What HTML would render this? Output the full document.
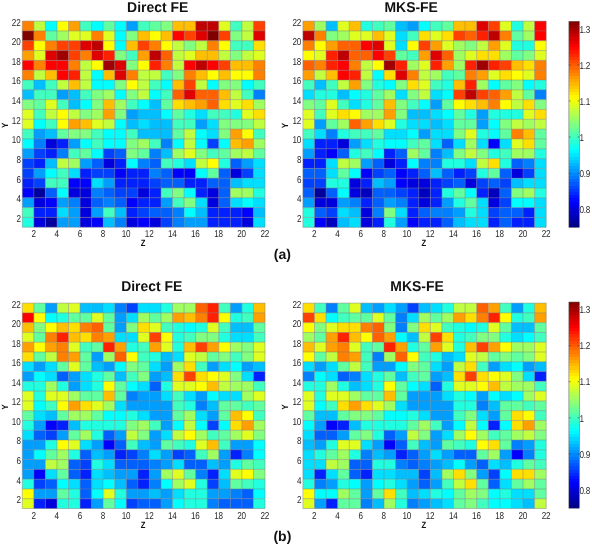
<!DOCTYPE html>
<html><head><meta charset="utf-8"><style>
html,body{margin:0;padding:0;background:#fff;}
svg{display:block;text-rendering:geometricPrecision;filter:blur(0.3px)}
.tk{font-family:"Liberation Sans",sans-serif;font-size:10px;letter-spacing:-0.3px;fill:#262626}
.tt{font-family:"Liberation Sans",sans-serif;font-size:14.3px;font-weight:bold;fill:#111}
.ax{font-family:"Liberation Sans",sans-serif;font-size:9px;font-weight:bold;fill:#111}
.lb{font-family:"Liberation Sans",sans-serif;font-size:14px;font-weight:bold;fill:#111}
</style></head><body>
<svg width="592" height="546" viewBox="0 0 592 546">
<rect x="22.30" y="21.10" width="11.61" height="9.86" fill="#ff8000"/><rect x="33.86" y="21.10" width="11.61" height="9.86" fill="#bfff40"/><rect x="45.41" y="21.10" width="11.61" height="9.86" fill="#00ffff"/><rect x="56.97" y="21.10" width="11.61" height="9.86" fill="#ffff00"/><rect x="68.53" y="21.10" width="11.61" height="9.86" fill="#ff9f00"/><rect x="80.09" y="21.10" width="11.61" height="9.86" fill="#40ffbf"/><rect x="91.64" y="21.10" width="11.61" height="9.86" fill="#00ffff"/><rect x="103.20" y="21.10" width="11.61" height="9.86" fill="#60ff9f"/><rect x="114.76" y="21.10" width="11.61" height="9.86" fill="#00ffff"/><rect x="126.31" y="21.10" width="11.61" height="9.86" fill="#009fff"/><rect x="137.87" y="21.10" width="11.61" height="9.86" fill="#40ffbf"/><rect x="149.43" y="21.10" width="11.61" height="9.86" fill="#60ff9f"/><rect x="160.99" y="21.10" width="11.61" height="9.86" fill="#80ff80"/><rect x="172.54" y="21.10" width="11.61" height="9.86" fill="#ffbf00"/><rect x="184.10" y="21.10" width="11.61" height="9.86" fill="#ffbf00"/><rect x="195.66" y="21.10" width="11.61" height="9.86" fill="#bf0000"/><rect x="207.21" y="21.10" width="11.61" height="9.86" fill="#bf0000"/><rect x="218.77" y="21.10" width="11.61" height="9.86" fill="#dfff20"/><rect x="230.33" y="21.10" width="11.61" height="9.86" fill="#40ffbf"/><rect x="241.89" y="21.10" width="11.61" height="9.86" fill="#bfff40"/><rect x="253.44" y="21.10" width="11.61" height="9.86" fill="#ff4000"/><rect x="22.30" y="30.91" width="11.61" height="9.86" fill="#800000"/><rect x="33.86" y="30.91" width="11.61" height="9.86" fill="#ff8000"/><rect x="45.41" y="30.91" width="11.61" height="9.86" fill="#60ff9f"/><rect x="56.97" y="30.91" width="11.61" height="9.86" fill="#9fff60"/><rect x="68.53" y="30.91" width="11.61" height="9.86" fill="#dfff20"/><rect x="80.09" y="30.91" width="11.61" height="9.86" fill="#dfff20"/><rect x="91.64" y="30.91" width="11.61" height="9.86" fill="#ff8000"/><rect x="103.20" y="30.91" width="11.61" height="9.86" fill="#dfff20"/><rect x="114.76" y="30.91" width="11.61" height="9.86" fill="#00ffff"/><rect x="126.31" y="30.91" width="11.61" height="9.86" fill="#80ff80"/><rect x="137.87" y="30.91" width="11.61" height="9.86" fill="#ffbf00"/><rect x="149.43" y="30.91" width="11.61" height="9.86" fill="#ffff00"/><rect x="160.99" y="30.91" width="11.61" height="9.86" fill="#ffbf00"/><rect x="172.54" y="30.91" width="11.61" height="9.86" fill="#ff0000"/><rect x="184.10" y="30.91" width="11.61" height="9.86" fill="#ff4000"/><rect x="195.66" y="30.91" width="11.61" height="9.86" fill="#df0000"/><rect x="207.21" y="30.91" width="11.61" height="9.86" fill="#800000"/><rect x="218.77" y="30.91" width="11.61" height="9.86" fill="#ff4000"/><rect x="230.33" y="30.91" width="11.61" height="9.86" fill="#80ff80"/><rect x="241.89" y="30.91" width="11.61" height="9.86" fill="#bfff40"/><rect x="253.44" y="30.91" width="11.61" height="9.86" fill="#df0000"/><rect x="22.30" y="40.73" width="11.61" height="9.86" fill="#ff4000"/><rect x="33.86" y="40.73" width="11.61" height="9.86" fill="#ffff00"/><rect x="45.41" y="40.73" width="11.61" height="9.86" fill="#ff8000"/><rect x="56.97" y="40.73" width="11.61" height="9.86" fill="#ff4000"/><rect x="68.53" y="40.73" width="11.61" height="9.86" fill="#ff4000"/><rect x="80.09" y="40.73" width="11.61" height="9.86" fill="#df0000"/><rect x="91.64" y="40.73" width="11.61" height="9.86" fill="#bf0000"/><rect x="103.20" y="40.73" width="11.61" height="9.86" fill="#ffff00"/><rect x="114.76" y="40.73" width="11.61" height="9.86" fill="#00ffff"/><rect x="126.31" y="40.73" width="11.61" height="9.86" fill="#ffbf00"/><rect x="137.87" y="40.73" width="11.61" height="9.86" fill="#ff4000"/><rect x="149.43" y="40.73" width="11.61" height="9.86" fill="#ff8000"/><rect x="160.99" y="40.73" width="11.61" height="9.86" fill="#ffff00"/><rect x="172.54" y="40.73" width="11.61" height="9.86" fill="#bfff40"/><rect x="184.10" y="40.73" width="11.61" height="9.86" fill="#80ff80"/><rect x="195.66" y="40.73" width="11.61" height="9.86" fill="#bfff40"/><rect x="207.21" y="40.73" width="11.61" height="9.86" fill="#ff8000"/><rect x="218.77" y="40.73" width="11.61" height="9.86" fill="#ffff00"/><rect x="230.33" y="40.73" width="11.61" height="9.86" fill="#40ffbf"/><rect x="241.89" y="40.73" width="11.61" height="9.86" fill="#40ffbf"/><rect x="253.44" y="40.73" width="11.61" height="9.86" fill="#ffdf00"/><rect x="22.30" y="50.54" width="11.61" height="9.86" fill="#ff9f00"/><rect x="33.86" y="50.54" width="11.61" height="9.86" fill="#dfff20"/><rect x="45.41" y="50.54" width="11.61" height="9.86" fill="#df0000"/><rect x="56.97" y="50.54" width="11.61" height="9.86" fill="#9f0000"/><rect x="68.53" y="50.54" width="11.61" height="9.86" fill="#ff4000"/><rect x="80.09" y="50.54" width="11.61" height="9.86" fill="#ff8000"/><rect x="91.64" y="50.54" width="11.61" height="9.86" fill="#df0000"/><rect x="103.20" y="50.54" width="11.61" height="9.86" fill="#ff2000"/><rect x="114.76" y="50.54" width="11.61" height="9.86" fill="#80ff80"/><rect x="126.31" y="50.54" width="11.61" height="9.86" fill="#40ffbf"/><rect x="137.87" y="50.54" width="11.61" height="9.86" fill="#ff9f00"/><rect x="149.43" y="50.54" width="11.61" height="9.86" fill="#bf0000"/><rect x="160.99" y="50.54" width="11.61" height="9.86" fill="#ff6000"/><rect x="172.54" y="50.54" width="11.61" height="9.86" fill="#bfff40"/><rect x="184.10" y="50.54" width="11.61" height="9.86" fill="#dfff20"/><rect x="195.66" y="50.54" width="11.61" height="9.86" fill="#ffbf00"/><rect x="207.21" y="50.54" width="11.61" height="9.86" fill="#ffbf00"/><rect x="218.77" y="50.54" width="11.61" height="9.86" fill="#bfff40"/><rect x="230.33" y="50.54" width="11.61" height="9.86" fill="#80ff80"/><rect x="241.89" y="50.54" width="11.61" height="9.86" fill="#bfff40"/><rect x="253.44" y="50.54" width="11.61" height="9.86" fill="#dfff20"/><rect x="22.30" y="60.36" width="11.61" height="9.86" fill="#ff0000"/><rect x="33.86" y="60.36" width="11.61" height="9.86" fill="#ff8000"/><rect x="45.41" y="60.36" width="11.61" height="9.86" fill="#ff0000"/><rect x="56.97" y="60.36" width="11.61" height="9.86" fill="#ff0000"/><rect x="68.53" y="60.36" width="11.61" height="9.86" fill="#ff8000"/><rect x="80.09" y="60.36" width="11.61" height="9.86" fill="#bfff40"/><rect x="91.64" y="60.36" width="11.61" height="9.86" fill="#ffff00"/><rect x="103.20" y="60.36" width="11.61" height="9.86" fill="#9f0000"/><rect x="114.76" y="60.36" width="11.61" height="9.86" fill="#df0000"/><rect x="126.31" y="60.36" width="11.61" height="9.86" fill="#80ff80"/><rect x="137.87" y="60.36" width="11.61" height="9.86" fill="#ffff00"/><rect x="149.43" y="60.36" width="11.61" height="9.86" fill="#ff2000"/><rect x="160.99" y="60.36" width="11.61" height="9.86" fill="#ff8000"/><rect x="172.54" y="60.36" width="11.61" height="9.86" fill="#bfff40"/><rect x="184.10" y="60.36" width="11.61" height="9.86" fill="#ff0000"/><rect x="195.66" y="60.36" width="11.61" height="9.86" fill="#bf0000"/><rect x="207.21" y="60.36" width="11.61" height="9.86" fill="#ff0000"/><rect x="218.77" y="60.36" width="11.61" height="9.86" fill="#ff4000"/><rect x="230.33" y="60.36" width="11.61" height="9.86" fill="#ffbf00"/><rect x="241.89" y="60.36" width="11.61" height="9.86" fill="#ffbf00"/><rect x="253.44" y="60.36" width="11.61" height="9.86" fill="#ff8000"/><rect x="22.30" y="70.17" width="11.61" height="9.86" fill="#ff8000"/><rect x="33.86" y="70.17" width="11.61" height="9.86" fill="#bfff40"/><rect x="45.41" y="70.17" width="11.61" height="9.86" fill="#ffbf00"/><rect x="56.97" y="70.17" width="11.61" height="9.86" fill="#ff0000"/><rect x="68.53" y="70.17" width="11.61" height="9.86" fill="#ff2000"/><rect x="80.09" y="70.17" width="11.61" height="9.86" fill="#bfff40"/><rect x="91.64" y="70.17" width="11.61" height="9.86" fill="#00ffff"/><rect x="103.20" y="70.17" width="11.61" height="9.86" fill="#ffbf00"/><rect x="114.76" y="70.17" width="11.61" height="9.86" fill="#df0000"/><rect x="126.31" y="70.17" width="11.61" height="9.86" fill="#ff8000"/><rect x="137.87" y="70.17" width="11.61" height="9.86" fill="#bfff40"/><rect x="149.43" y="70.17" width="11.61" height="9.86" fill="#bfff40"/><rect x="160.99" y="70.17" width="11.61" height="9.86" fill="#40ffbf"/><rect x="172.54" y="70.17" width="11.61" height="9.86" fill="#80ff80"/><rect x="184.10" y="70.17" width="11.61" height="9.86" fill="#ff8000"/><rect x="195.66" y="70.17" width="11.61" height="9.86" fill="#ffbf00"/><rect x="207.21" y="70.17" width="11.61" height="9.86" fill="#ffff00"/><rect x="218.77" y="70.17" width="11.61" height="9.86" fill="#ffbf00"/><rect x="230.33" y="70.17" width="11.61" height="9.86" fill="#ffff00"/><rect x="241.89" y="70.17" width="11.61" height="9.86" fill="#ffff00"/><rect x="253.44" y="70.17" width="11.61" height="9.86" fill="#ff8000"/><rect x="22.30" y="79.99" width="11.61" height="9.86" fill="#40ffbf"/><rect x="33.86" y="79.99" width="11.61" height="9.86" fill="#00bfff"/><rect x="45.41" y="79.99" width="11.61" height="9.86" fill="#40ffbf"/><rect x="56.97" y="79.99" width="11.61" height="9.86" fill="#bfff40"/><rect x="68.53" y="79.99" width="11.61" height="9.86" fill="#ffbf00"/><rect x="80.09" y="79.99" width="11.61" height="9.86" fill="#bfff40"/><rect x="91.64" y="79.99" width="11.61" height="9.86" fill="#00ffff"/><rect x="103.20" y="79.99" width="11.61" height="9.86" fill="#00ffff"/><rect x="114.76" y="79.99" width="11.61" height="9.86" fill="#80ff80"/><rect x="126.31" y="79.99" width="11.61" height="9.86" fill="#ffff00"/><rect x="137.87" y="79.99" width="11.61" height="9.86" fill="#bfff40"/><rect x="149.43" y="79.99" width="11.61" height="9.86" fill="#40ffbf"/><rect x="160.99" y="79.99" width="11.61" height="9.86" fill="#00ffff"/><rect x="172.54" y="79.99" width="11.61" height="9.86" fill="#ffbf00"/><rect x="184.10" y="79.99" width="11.61" height="9.86" fill="#ff4000"/><rect x="195.66" y="79.99" width="11.61" height="9.86" fill="#bfff40"/><rect x="207.21" y="79.99" width="11.61" height="9.86" fill="#00ffff"/><rect x="218.77" y="79.99" width="11.61" height="9.86" fill="#80ff80"/><rect x="230.33" y="79.99" width="11.61" height="9.86" fill="#80ff80"/><rect x="241.89" y="79.99" width="11.61" height="9.86" fill="#00ffff"/><rect x="253.44" y="79.99" width="11.61" height="9.86" fill="#40ffbf"/><rect x="22.30" y="89.80" width="11.61" height="9.86" fill="#00bfff"/><rect x="33.86" y="89.80" width="11.61" height="9.86" fill="#40ffbf"/><rect x="45.41" y="89.80" width="11.61" height="9.86" fill="#40ffbf"/><rect x="56.97" y="89.80" width="11.61" height="9.86" fill="#009fff"/><rect x="68.53" y="89.80" width="11.61" height="9.86" fill="#00bfff"/><rect x="80.09" y="89.80" width="11.61" height="9.86" fill="#40ffbf"/><rect x="91.64" y="89.80" width="11.61" height="9.86" fill="#80ff80"/><rect x="103.20" y="89.80" width="11.61" height="9.86" fill="#9fff60"/><rect x="114.76" y="89.80" width="11.61" height="9.86" fill="#00ffff"/><rect x="126.31" y="89.80" width="11.61" height="9.86" fill="#80ff80"/><rect x="137.87" y="89.80" width="11.61" height="9.86" fill="#bfff40"/><rect x="149.43" y="89.80" width="11.61" height="9.86" fill="#00ffff"/><rect x="160.99" y="89.80" width="11.61" height="9.86" fill="#40ffbf"/><rect x="172.54" y="89.80" width="11.61" height="9.86" fill="#ff6000"/><rect x="184.10" y="89.80" width="11.61" height="9.86" fill="#df0000"/><rect x="195.66" y="89.80" width="11.61" height="9.86" fill="#ff6000"/><rect x="207.21" y="89.80" width="11.61" height="9.86" fill="#ff6000"/><rect x="218.77" y="89.80" width="11.61" height="9.86" fill="#ffbf00"/><rect x="230.33" y="89.80" width="11.61" height="9.86" fill="#bfff40"/><rect x="241.89" y="89.80" width="11.61" height="9.86" fill="#40ffbf"/><rect x="253.44" y="89.80" width="11.61" height="9.86" fill="#0080ff"/><rect x="22.30" y="99.61" width="11.61" height="9.86" fill="#80ff80"/><rect x="33.86" y="99.61" width="11.61" height="9.86" fill="#60ff9f"/><rect x="45.41" y="99.61" width="11.61" height="9.86" fill="#dfff20"/><rect x="56.97" y="99.61" width="11.61" height="9.86" fill="#40ffbf"/><rect x="68.53" y="99.61" width="11.61" height="9.86" fill="#00bfff"/><rect x="80.09" y="99.61" width="11.61" height="9.86" fill="#00ffff"/><rect x="91.64" y="99.61" width="11.61" height="9.86" fill="#80ff80"/><rect x="103.20" y="99.61" width="11.61" height="9.86" fill="#ffbf00"/><rect x="114.76" y="99.61" width="11.61" height="9.86" fill="#9fff60"/><rect x="126.31" y="99.61" width="11.61" height="9.86" fill="#40ffbf"/><rect x="137.87" y="99.61" width="11.61" height="9.86" fill="#00ffff"/><rect x="149.43" y="99.61" width="11.61" height="9.86" fill="#00bfff"/><rect x="160.99" y="99.61" width="11.61" height="9.86" fill="#60ff9f"/><rect x="172.54" y="99.61" width="11.61" height="9.86" fill="#ffdf00"/><rect x="184.10" y="99.61" width="11.61" height="9.86" fill="#ffbf00"/><rect x="195.66" y="99.61" width="11.61" height="9.86" fill="#ff9f00"/><rect x="207.21" y="99.61" width="11.61" height="9.86" fill="#ff6000"/><rect x="218.77" y="99.61" width="11.61" height="9.86" fill="#ffdf00"/><rect x="230.33" y="99.61" width="11.61" height="9.86" fill="#dfff20"/><rect x="241.89" y="99.61" width="11.61" height="9.86" fill="#ffdf00"/><rect x="253.44" y="99.61" width="11.61" height="9.86" fill="#9fff60"/><rect x="22.30" y="109.43" width="11.61" height="9.86" fill="#dfff20"/><rect x="33.86" y="109.43" width="11.61" height="9.86" fill="#40ffbf"/><rect x="45.41" y="109.43" width="11.61" height="9.86" fill="#bfff40"/><rect x="56.97" y="109.43" width="11.61" height="9.86" fill="#ffff00"/><rect x="68.53" y="109.43" width="11.61" height="9.86" fill="#bfff40"/><rect x="80.09" y="109.43" width="11.61" height="9.86" fill="#80ff80"/><rect x="91.64" y="109.43" width="11.61" height="9.86" fill="#9fff60"/><rect x="103.20" y="109.43" width="11.61" height="9.86" fill="#ff9f00"/><rect x="114.76" y="109.43" width="11.61" height="9.86" fill="#80ff80"/><rect x="126.31" y="109.43" width="11.61" height="9.86" fill="#009fff"/><rect x="137.87" y="109.43" width="11.61" height="9.86" fill="#00bfff"/><rect x="149.43" y="109.43" width="11.61" height="9.86" fill="#00bfff"/><rect x="160.99" y="109.43" width="11.61" height="9.86" fill="#00ffff"/><rect x="172.54" y="109.43" width="11.61" height="9.86" fill="#60ff9f"/><rect x="184.10" y="109.43" width="11.61" height="9.86" fill="#20ffdf"/><rect x="195.66" y="109.43" width="11.61" height="9.86" fill="#00dfff"/><rect x="207.21" y="109.43" width="11.61" height="9.86" fill="#40ffbf"/><rect x="218.77" y="109.43" width="11.61" height="9.86" fill="#40ffbf"/><rect x="230.33" y="109.43" width="11.61" height="9.86" fill="#20ffdf"/><rect x="241.89" y="109.43" width="11.61" height="9.86" fill="#dfff20"/><rect x="253.44" y="109.43" width="11.61" height="9.86" fill="#ffdf00"/><rect x="22.30" y="119.24" width="11.61" height="9.86" fill="#dfff20"/><rect x="33.86" y="119.24" width="11.61" height="9.86" fill="#00ffff"/><rect x="45.41" y="119.24" width="11.61" height="9.86" fill="#40ffbf"/><rect x="56.97" y="119.24" width="11.61" height="9.86" fill="#ffff00"/><rect x="68.53" y="119.24" width="11.61" height="9.86" fill="#ff9f00"/><rect x="80.09" y="119.24" width="11.61" height="9.86" fill="#ffbf00"/><rect x="91.64" y="119.24" width="11.61" height="9.86" fill="#dfff20"/><rect x="103.20" y="119.24" width="11.61" height="9.86" fill="#bfff40"/><rect x="114.76" y="119.24" width="11.61" height="9.86" fill="#00ffff"/><rect x="126.31" y="119.24" width="11.61" height="9.86" fill="#00bfff"/><rect x="137.87" y="119.24" width="11.61" height="9.86" fill="#00dfff"/><rect x="149.43" y="119.24" width="11.61" height="9.86" fill="#00bfff"/><rect x="160.99" y="119.24" width="11.61" height="9.86" fill="#00bfff"/><rect x="172.54" y="119.24" width="11.61" height="9.86" fill="#40ffbf"/><rect x="184.10" y="119.24" width="11.61" height="9.86" fill="#40ffbf"/><rect x="195.66" y="119.24" width="11.61" height="9.86" fill="#009fff"/><rect x="207.21" y="119.24" width="11.61" height="9.86" fill="#00dfff"/><rect x="218.77" y="119.24" width="11.61" height="9.86" fill="#80ff80"/><rect x="230.33" y="119.24" width="11.61" height="9.86" fill="#80ff80"/><rect x="241.89" y="119.24" width="11.61" height="9.86" fill="#80ff80"/><rect x="253.44" y="119.24" width="11.61" height="9.86" fill="#bfff40"/><rect x="22.30" y="129.06" width="11.61" height="9.86" fill="#40ffbf"/><rect x="33.86" y="129.06" width="11.61" height="9.86" fill="#009fff"/><rect x="45.41" y="129.06" width="11.61" height="9.86" fill="#00bfff"/><rect x="56.97" y="129.06" width="11.61" height="9.86" fill="#60ff9f"/><rect x="68.53" y="129.06" width="11.61" height="9.86" fill="#80ff80"/><rect x="80.09" y="129.06" width="11.61" height="9.86" fill="#80ff80"/><rect x="91.64" y="129.06" width="11.61" height="9.86" fill="#40ffbf"/><rect x="103.20" y="129.06" width="11.61" height="9.86" fill="#00ffff"/><rect x="114.76" y="129.06" width="11.61" height="9.86" fill="#00ffff"/><rect x="126.31" y="129.06" width="11.61" height="9.86" fill="#40ffbf"/><rect x="137.87" y="129.06" width="11.61" height="9.86" fill="#00bfff"/><rect x="149.43" y="129.06" width="11.61" height="9.86" fill="#00bfff"/><rect x="160.99" y="129.06" width="11.61" height="9.86" fill="#00bfff"/><rect x="172.54" y="129.06" width="11.61" height="9.86" fill="#60ff9f"/><rect x="184.10" y="129.06" width="11.61" height="9.86" fill="#bfff40"/><rect x="195.66" y="129.06" width="11.61" height="9.86" fill="#00ffff"/><rect x="207.21" y="129.06" width="11.61" height="9.86" fill="#00dfff"/><rect x="218.77" y="129.06" width="11.61" height="9.86" fill="#80ff80"/><rect x="230.33" y="129.06" width="11.61" height="9.86" fill="#ff9f00"/><rect x="241.89" y="129.06" width="11.61" height="9.86" fill="#ffff00"/><rect x="253.44" y="129.06" width="11.61" height="9.86" fill="#40ffbf"/><rect x="22.30" y="138.87" width="11.61" height="9.86" fill="#00ffff"/><rect x="33.86" y="138.87" width="11.61" height="9.86" fill="#0080ff"/><rect x="45.41" y="138.87" width="11.61" height="9.86" fill="#0000df"/><rect x="56.97" y="138.87" width="11.61" height="9.86" fill="#0020ff"/><rect x="68.53" y="138.87" width="11.61" height="9.86" fill="#009fff"/><rect x="80.09" y="138.87" width="11.61" height="9.86" fill="#00ffff"/><rect x="91.64" y="138.87" width="11.61" height="9.86" fill="#40ffbf"/><rect x="103.20" y="138.87" width="11.61" height="9.86" fill="#00ffff"/><rect x="114.76" y="138.87" width="11.61" height="9.86" fill="#00ffff"/><rect x="126.31" y="138.87" width="11.61" height="9.86" fill="#80ff80"/><rect x="137.87" y="138.87" width="11.61" height="9.86" fill="#9fff60"/><rect x="149.43" y="138.87" width="11.61" height="9.86" fill="#40ffbf"/><rect x="160.99" y="138.87" width="11.61" height="9.86" fill="#0080ff"/><rect x="172.54" y="138.87" width="11.61" height="9.86" fill="#00ffff"/><rect x="184.10" y="138.87" width="11.61" height="9.86" fill="#bfff40"/><rect x="195.66" y="138.87" width="11.61" height="9.86" fill="#00ffff"/><rect x="207.21" y="138.87" width="11.61" height="9.86" fill="#0040ff"/><rect x="218.77" y="138.87" width="11.61" height="9.86" fill="#00ffff"/><rect x="230.33" y="138.87" width="11.61" height="9.86" fill="#ffbf00"/><rect x="241.89" y="138.87" width="11.61" height="9.86" fill="#ff9f00"/><rect x="253.44" y="138.87" width="11.61" height="9.86" fill="#9fff60"/><rect x="22.30" y="148.69" width="11.61" height="9.86" fill="#009fff"/><rect x="33.86" y="148.69" width="11.61" height="9.86" fill="#0040ff"/><rect x="45.41" y="148.69" width="11.61" height="9.86" fill="#0020ff"/><rect x="56.97" y="148.69" width="11.61" height="9.86" fill="#0080ff"/><rect x="68.53" y="148.69" width="11.61" height="9.86" fill="#40ffbf"/><rect x="80.09" y="148.69" width="11.61" height="9.86" fill="#60ff9f"/><rect x="91.64" y="148.69" width="11.61" height="9.86" fill="#00ffff"/><rect x="103.20" y="148.69" width="11.61" height="9.86" fill="#0040ff"/><rect x="114.76" y="148.69" width="11.61" height="9.86" fill="#0060ff"/><rect x="126.31" y="148.69" width="11.61" height="9.86" fill="#80ff80"/><rect x="137.87" y="148.69" width="11.61" height="9.86" fill="#60ff9f"/><rect x="149.43" y="148.69" width="11.61" height="9.86" fill="#0080ff"/><rect x="160.99" y="148.69" width="11.61" height="9.86" fill="#00bfff"/><rect x="172.54" y="148.69" width="11.61" height="9.86" fill="#9fff60"/><rect x="184.10" y="148.69" width="11.61" height="9.86" fill="#dfff20"/><rect x="195.66" y="148.69" width="11.61" height="9.86" fill="#80ff80"/><rect x="207.21" y="148.69" width="11.61" height="9.86" fill="#40ffbf"/><rect x="218.77" y="148.69" width="11.61" height="9.86" fill="#60ff9f"/><rect x="230.33" y="148.69" width="11.61" height="9.86" fill="#9fff60"/><rect x="241.89" y="148.69" width="11.61" height="9.86" fill="#bfff40"/><rect x="253.44" y="148.69" width="11.61" height="9.86" fill="#60ff9f"/><rect x="22.30" y="158.50" width="11.61" height="9.86" fill="#0040ff"/><rect x="33.86" y="158.50" width="11.61" height="9.86" fill="#0020ff"/><rect x="45.41" y="158.50" width="11.61" height="9.86" fill="#00bfff"/><rect x="56.97" y="158.50" width="11.61" height="9.86" fill="#bfff40"/><rect x="68.53" y="158.50" width="11.61" height="9.86" fill="#9fff60"/><rect x="80.09" y="158.50" width="11.61" height="9.86" fill="#009fff"/><rect x="91.64" y="158.50" width="11.61" height="9.86" fill="#0060ff"/><rect x="103.20" y="158.50" width="11.61" height="9.86" fill="#0000df"/><rect x="114.76" y="158.50" width="11.61" height="9.86" fill="#0020ff"/><rect x="126.31" y="158.50" width="11.61" height="9.86" fill="#00ffff"/><rect x="137.87" y="158.50" width="11.61" height="9.86" fill="#0080ff"/><rect x="149.43" y="158.50" width="11.61" height="9.86" fill="#0060ff"/><rect x="160.99" y="158.50" width="11.61" height="9.86" fill="#40ffbf"/><rect x="172.54" y="158.50" width="11.61" height="9.86" fill="#20ffdf"/><rect x="184.10" y="158.50" width="11.61" height="9.86" fill="#00dfff"/><rect x="195.66" y="158.50" width="11.61" height="9.86" fill="#bfff40"/><rect x="207.21" y="158.50" width="11.61" height="9.86" fill="#ffff00"/><rect x="218.77" y="158.50" width="11.61" height="9.86" fill="#20ffdf"/><rect x="230.33" y="158.50" width="11.61" height="9.86" fill="#0060ff"/><rect x="241.89" y="158.50" width="11.61" height="9.86" fill="#009fff"/><rect x="253.44" y="158.50" width="11.61" height="9.86" fill="#00dfff"/><rect x="22.30" y="168.31" width="11.61" height="9.86" fill="#0040ff"/><rect x="33.86" y="168.31" width="11.61" height="9.86" fill="#009fff"/><rect x="45.41" y="168.31" width="11.61" height="9.86" fill="#00ffff"/><rect x="56.97" y="168.31" width="11.61" height="9.86" fill="#40ffbf"/><rect x="68.53" y="168.31" width="11.61" height="9.86" fill="#00dfff"/><rect x="80.09" y="168.31" width="11.61" height="9.86" fill="#0020ff"/><rect x="91.64" y="168.31" width="11.61" height="9.86" fill="#0040ff"/><rect x="103.20" y="168.31" width="11.61" height="9.86" fill="#0040ff"/><rect x="114.76" y="168.31" width="11.61" height="9.86" fill="#0000ff"/><rect x="126.31" y="168.31" width="11.61" height="9.86" fill="#0020ff"/><rect x="137.87" y="168.31" width="11.61" height="9.86" fill="#0020ff"/><rect x="149.43" y="168.31" width="11.61" height="9.86" fill="#0080ff"/><rect x="160.99" y="168.31" width="11.61" height="9.86" fill="#0060ff"/><rect x="172.54" y="168.31" width="11.61" height="9.86" fill="#0000ff"/><rect x="184.10" y="168.31" width="11.61" height="9.86" fill="#0000ff"/><rect x="195.66" y="168.31" width="11.61" height="9.86" fill="#00ffff"/><rect x="207.21" y="168.31" width="11.61" height="9.86" fill="#60ff9f"/><rect x="218.77" y="168.31" width="11.61" height="9.86" fill="#0060ff"/><rect x="230.33" y="168.31" width="11.61" height="9.86" fill="#0000df"/><rect x="241.89" y="168.31" width="11.61" height="9.86" fill="#0040ff"/><rect x="253.44" y="168.31" width="11.61" height="9.86" fill="#00dfff"/><rect x="22.30" y="178.13" width="11.61" height="9.86" fill="#0020ff"/><rect x="33.86" y="178.13" width="11.61" height="9.86" fill="#0040ff"/><rect x="45.41" y="178.13" width="11.61" height="9.86" fill="#40ffbf"/><rect x="56.97" y="178.13" width="11.61" height="9.86" fill="#40ffbf"/><rect x="68.53" y="178.13" width="11.61" height="9.86" fill="#0000ff"/><rect x="80.09" y="178.13" width="11.61" height="9.86" fill="#0000ff"/><rect x="91.64" y="178.13" width="11.61" height="9.86" fill="#00dfff"/><rect x="103.20" y="178.13" width="11.61" height="9.86" fill="#009fff"/><rect x="114.76" y="178.13" width="11.61" height="9.86" fill="#0020ff"/><rect x="126.31" y="178.13" width="11.61" height="9.86" fill="#0020ff"/><rect x="137.87" y="178.13" width="11.61" height="9.86" fill="#0020ff"/><rect x="149.43" y="178.13" width="11.61" height="9.86" fill="#0040ff"/><rect x="160.99" y="178.13" width="11.61" height="9.86" fill="#0060ff"/><rect x="172.54" y="178.13" width="11.61" height="9.86" fill="#0060ff"/><rect x="184.10" y="178.13" width="11.61" height="9.86" fill="#0020ff"/><rect x="195.66" y="178.13" width="11.61" height="9.86" fill="#0020ff"/><rect x="207.21" y="178.13" width="11.61" height="9.86" fill="#0060ff"/><rect x="218.77" y="178.13" width="11.61" height="9.86" fill="#0060ff"/><rect x="230.33" y="178.13" width="11.61" height="9.86" fill="#00bfff"/><rect x="241.89" y="178.13" width="11.61" height="9.86" fill="#00dfff"/><rect x="253.44" y="178.13" width="11.61" height="9.86" fill="#00dfff"/><rect x="22.30" y="187.94" width="11.61" height="9.86" fill="#0000ff"/><rect x="33.86" y="187.94" width="11.61" height="9.86" fill="#00009f"/><rect x="45.41" y="187.94" width="11.61" height="9.86" fill="#0060ff"/><rect x="56.97" y="187.94" width="11.61" height="9.86" fill="#00ffff"/><rect x="68.53" y="187.94" width="11.61" height="9.86" fill="#0000df"/><rect x="80.09" y="187.94" width="11.61" height="9.86" fill="#0000df"/><rect x="91.64" y="187.94" width="11.61" height="9.86" fill="#0080ff"/><rect x="103.20" y="187.94" width="11.61" height="9.86" fill="#0060ff"/><rect x="114.76" y="187.94" width="11.61" height="9.86" fill="#0040ff"/><rect x="126.31" y="187.94" width="11.61" height="9.86" fill="#0040ff"/><rect x="137.87" y="187.94" width="11.61" height="9.86" fill="#0000df"/><rect x="149.43" y="187.94" width="11.61" height="9.86" fill="#0020ff"/><rect x="160.99" y="187.94" width="11.61" height="9.86" fill="#40ffbf"/><rect x="172.54" y="187.94" width="11.61" height="9.86" fill="#80ff80"/><rect x="184.10" y="187.94" width="11.61" height="9.86" fill="#00ffff"/><rect x="195.66" y="187.94" width="11.61" height="9.86" fill="#0020ff"/><rect x="207.21" y="187.94" width="11.61" height="9.86" fill="#0000df"/><rect x="218.77" y="187.94" width="11.61" height="9.86" fill="#0060ff"/><rect x="230.33" y="187.94" width="11.61" height="9.86" fill="#9fff60"/><rect x="241.89" y="187.94" width="11.61" height="9.86" fill="#9fff60"/><rect x="253.44" y="187.94" width="11.61" height="9.86" fill="#20ffdf"/><rect x="22.30" y="197.76" width="11.61" height="9.86" fill="#009fff"/><rect x="33.86" y="197.76" width="11.61" height="9.86" fill="#0000df"/><rect x="45.41" y="197.76" width="11.61" height="9.86" fill="#0000ff"/><rect x="56.97" y="197.76" width="11.61" height="9.86" fill="#009fff"/><rect x="68.53" y="197.76" width="11.61" height="9.86" fill="#0080ff"/><rect x="80.09" y="197.76" width="11.61" height="9.86" fill="#0000df"/><rect x="91.64" y="197.76" width="11.61" height="9.86" fill="#0060ff"/><rect x="103.20" y="197.76" width="11.61" height="9.86" fill="#0080ff"/><rect x="114.76" y="197.76" width="11.61" height="9.86" fill="#0060ff"/><rect x="126.31" y="197.76" width="11.61" height="9.86" fill="#0000ff"/><rect x="137.87" y="197.76" width="11.61" height="9.86" fill="#0020ff"/><rect x="149.43" y="197.76" width="11.61" height="9.86" fill="#0020ff"/><rect x="160.99" y="197.76" width="11.61" height="9.86" fill="#009fff"/><rect x="172.54" y="197.76" width="11.61" height="9.86" fill="#40ffbf"/><rect x="184.10" y="197.76" width="11.61" height="9.86" fill="#80ff80"/><rect x="195.66" y="197.76" width="11.61" height="9.86" fill="#00dfff"/><rect x="207.21" y="197.76" width="11.61" height="9.86" fill="#0000df"/><rect x="218.77" y="197.76" width="11.61" height="9.86" fill="#0060ff"/><rect x="230.33" y="197.76" width="11.61" height="9.86" fill="#00dfff"/><rect x="241.89" y="197.76" width="11.61" height="9.86" fill="#00ffff"/><rect x="253.44" y="197.76" width="11.61" height="9.86" fill="#00dfff"/><rect x="22.30" y="207.57" width="11.61" height="9.86" fill="#40ffbf"/><rect x="33.86" y="207.57" width="11.61" height="9.86" fill="#0020ff"/><rect x="45.41" y="207.57" width="11.61" height="9.86" fill="#0020ff"/><rect x="56.97" y="207.57" width="11.61" height="9.86" fill="#00dfff"/><rect x="68.53" y="207.57" width="11.61" height="9.86" fill="#009fff"/><rect x="80.09" y="207.57" width="11.61" height="9.86" fill="#0000df"/><rect x="91.64" y="207.57" width="11.61" height="9.86" fill="#009fff"/><rect x="103.20" y="207.57" width="11.61" height="9.86" fill="#40ffbf"/><rect x="114.76" y="207.57" width="11.61" height="9.86" fill="#00bfff"/><rect x="126.31" y="207.57" width="11.61" height="9.86" fill="#0020ff"/><rect x="137.87" y="207.57" width="11.61" height="9.86" fill="#0040ff"/><rect x="149.43" y="207.57" width="11.61" height="9.86" fill="#0060ff"/><rect x="160.99" y="207.57" width="11.61" height="9.86" fill="#0060ff"/><rect x="172.54" y="207.57" width="11.61" height="9.86" fill="#0080ff"/><rect x="184.10" y="207.57" width="11.61" height="9.86" fill="#00ffff"/><rect x="195.66" y="207.57" width="11.61" height="9.86" fill="#00bfff"/><rect x="207.21" y="207.57" width="11.61" height="9.86" fill="#0020ff"/><rect x="218.77" y="207.57" width="11.61" height="9.86" fill="#0020ff"/><rect x="230.33" y="207.57" width="11.61" height="9.86" fill="#0020ff"/><rect x="241.89" y="207.57" width="11.61" height="9.86" fill="#0000ff"/><rect x="253.44" y="207.57" width="11.61" height="9.86" fill="#00bfff"/><rect x="22.30" y="217.39" width="11.61" height="9.86" fill="#20ffdf"/><rect x="33.86" y="217.39" width="11.61" height="9.86" fill="#0000df"/><rect x="45.41" y="217.39" width="11.61" height="9.86" fill="#00009f"/><rect x="56.97" y="217.39" width="11.61" height="9.86" fill="#009fff"/><rect x="68.53" y="217.39" width="11.61" height="9.86" fill="#009fff"/><rect x="80.09" y="217.39" width="11.61" height="9.86" fill="#0000df"/><rect x="91.64" y="217.39" width="11.61" height="9.86" fill="#0000ff"/><rect x="103.20" y="217.39" width="11.61" height="9.86" fill="#00bfff"/><rect x="114.76" y="217.39" width="11.61" height="9.86" fill="#0080ff"/><rect x="126.31" y="217.39" width="11.61" height="9.86" fill="#0000df"/><rect x="137.87" y="217.39" width="11.61" height="9.86" fill="#0000ff"/><rect x="149.43" y="217.39" width="11.61" height="9.86" fill="#0000df"/><rect x="160.99" y="217.39" width="11.61" height="9.86" fill="#0040ff"/><rect x="172.54" y="217.39" width="11.61" height="9.86" fill="#0080ff"/><rect x="184.10" y="217.39" width="11.61" height="9.86" fill="#009fff"/><rect x="195.66" y="217.39" width="11.61" height="9.86" fill="#009fff"/><rect x="207.21" y="217.39" width="11.61" height="9.86" fill="#0020ff"/><rect x="218.77" y="217.39" width="11.61" height="9.86" fill="#0020ff"/><rect x="230.33" y="217.39" width="11.61" height="9.86" fill="#0020ff"/><rect x="241.89" y="217.39" width="11.61" height="9.86" fill="#0000df"/><rect x="253.44" y="217.39" width="11.61" height="9.86" fill="#00dfff"/><path d="M22.30 21.10V227.20M33.86 21.10V227.20M45.41 21.10V227.20M56.97 21.10V227.20M68.53 21.10V227.20M80.09 21.10V227.20M91.64 21.10V227.20M103.20 21.10V227.20M114.76 21.10V227.20M126.31 21.10V227.20M137.87 21.10V227.20M149.43 21.10V227.20M160.99 21.10V227.20M172.54 21.10V227.20M184.10 21.10V227.20M195.66 21.10V227.20M207.21 21.10V227.20M218.77 21.10V227.20M230.33 21.10V227.20M241.89 21.10V227.20M253.44 21.10V227.20M265.00 21.10V227.20M22.30 21.10H265.00M22.30 30.91H265.00M22.30 40.73H265.00M22.30 50.54H265.00M22.30 60.36H265.00M22.30 70.17H265.00M22.30 79.99H265.00M22.30 89.80H265.00M22.30 99.61H265.00M22.30 109.43H265.00M22.30 119.24H265.00M22.30 129.06H265.00M22.30 138.87H265.00M22.30 148.69H265.00M22.30 158.50H265.00M22.30 168.31H265.00M22.30 178.13H265.00M22.30 187.94H265.00M22.30 197.76H265.00M22.30 207.57H265.00M22.30 217.39H265.00M22.30 227.20H265.00" stroke="#787878" stroke-width="0.45" fill="none"/><text class="tk" text-anchor="end" transform="translate(20.70 221.79) scale(0.810 1)">2</text><text class="tk" text-anchor="middle" transform="translate(33.56 236.90) scale(0.810 1)">2</text><text class="tk" text-anchor="end" transform="translate(20.70 202.16) scale(0.810 1)">4</text><text class="tk" text-anchor="middle" transform="translate(56.67 236.90) scale(0.810 1)">4</text><text class="tk" text-anchor="end" transform="translate(20.70 182.53) scale(0.810 1)">6</text><text class="tk" text-anchor="middle" transform="translate(79.79 236.90) scale(0.810 1)">6</text><text class="tk" text-anchor="end" transform="translate(20.70 162.90) scale(0.810 1)">8</text><text class="tk" text-anchor="middle" transform="translate(102.90 236.90) scale(0.810 1)">8</text><text class="tk" text-anchor="end" transform="translate(20.40 143.27) scale(0.810 1)">10</text><text class="tk" text-anchor="middle" transform="translate(126.01 236.90) scale(0.810 1)">10</text><text class="tk" text-anchor="end" transform="translate(20.40 123.64) scale(0.810 1)">12</text><text class="tk" text-anchor="middle" transform="translate(149.13 236.90) scale(0.810 1)">12</text><text class="tk" text-anchor="end" transform="translate(20.40 104.01) scale(0.810 1)">14</text><text class="tk" text-anchor="middle" transform="translate(172.24 236.90) scale(0.810 1)">14</text><text class="tk" text-anchor="end" transform="translate(20.40 84.39) scale(0.810 1)">16</text><text class="tk" text-anchor="middle" transform="translate(195.36 236.90) scale(0.810 1)">16</text><text class="tk" text-anchor="end" transform="translate(20.40 64.76) scale(0.810 1)">18</text><text class="tk" text-anchor="middle" transform="translate(218.47 236.90) scale(0.810 1)">18</text><text class="tk" text-anchor="end" transform="translate(20.40 45.13) scale(0.810 1)">20</text><text class="tk" text-anchor="middle" transform="translate(241.59 236.90) scale(0.810 1)">20</text><text class="tk" text-anchor="end" transform="translate(20.40 25.50) scale(0.810 1)">22</text><text class="tk" text-anchor="middle" transform="translate(264.70 236.90) scale(0.810 1)">22</text>
<rect x="302.90" y="21.10" width="11.64" height="9.87" fill="#ff9f00"/><rect x="314.49" y="21.10" width="11.64" height="9.87" fill="#9fff60"/><rect x="326.07" y="21.10" width="11.64" height="9.87" fill="#00bfff"/><rect x="337.66" y="21.10" width="11.64" height="9.87" fill="#dfff20"/><rect x="349.24" y="21.10" width="11.64" height="9.87" fill="#ffbf00"/><rect x="360.83" y="21.10" width="11.64" height="9.87" fill="#20ffdf"/><rect x="372.41" y="21.10" width="11.64" height="9.87" fill="#40ffbf"/><rect x="384.00" y="21.10" width="11.64" height="9.87" fill="#60ff9f"/><rect x="395.59" y="21.10" width="11.64" height="9.87" fill="#00bfff"/><rect x="407.17" y="21.10" width="11.64" height="9.87" fill="#009fff"/><rect x="418.76" y="21.10" width="11.64" height="9.87" fill="#00ffff"/><rect x="430.34" y="21.10" width="11.64" height="9.87" fill="#40ffbf"/><rect x="441.93" y="21.10" width="11.64" height="9.87" fill="#60ff9f"/><rect x="453.51" y="21.10" width="11.64" height="9.87" fill="#ffbf00"/><rect x="465.10" y="21.10" width="11.64" height="9.87" fill="#ffbf00"/><rect x="476.69" y="21.10" width="11.64" height="9.87" fill="#df0000"/><rect x="488.27" y="21.10" width="11.64" height="9.87" fill="#ff4000"/><rect x="499.86" y="21.10" width="11.64" height="9.87" fill="#dfff20"/><rect x="511.44" y="21.10" width="11.64" height="9.87" fill="#20ffdf"/><rect x="523.03" y="21.10" width="11.64" height="9.87" fill="#bfff40"/><rect x="534.61" y="21.10" width="11.64" height="9.87" fill="#ff0000"/><rect x="302.90" y="30.92" width="11.64" height="9.87" fill="#bf0000"/><rect x="314.49" y="30.92" width="11.64" height="9.87" fill="#ff8000"/><rect x="326.07" y="30.92" width="11.64" height="9.87" fill="#80ff80"/><rect x="337.66" y="30.92" width="11.64" height="9.87" fill="#9fff60"/><rect x="349.24" y="30.92" width="11.64" height="9.87" fill="#dfff20"/><rect x="360.83" y="30.92" width="11.64" height="9.87" fill="#dfff20"/><rect x="372.41" y="30.92" width="11.64" height="9.87" fill="#ffbf00"/><rect x="384.00" y="30.92" width="11.64" height="9.87" fill="#dfff20"/><rect x="395.59" y="30.92" width="11.64" height="9.87" fill="#00dfff"/><rect x="407.17" y="30.92" width="11.64" height="9.87" fill="#40ffbf"/><rect x="418.76" y="30.92" width="11.64" height="9.87" fill="#ffdf00"/><rect x="430.34" y="30.92" width="11.64" height="9.87" fill="#dfff20"/><rect x="441.93" y="30.92" width="11.64" height="9.87" fill="#ffdf00"/><rect x="453.51" y="30.92" width="11.64" height="9.87" fill="#ff4000"/><rect x="465.10" y="30.92" width="11.64" height="9.87" fill="#ff6000"/><rect x="476.69" y="30.92" width="11.64" height="9.87" fill="#ff2000"/><rect x="488.27" y="30.92" width="11.64" height="9.87" fill="#bf0000"/><rect x="499.86" y="30.92" width="11.64" height="9.87" fill="#ff8000"/><rect x="511.44" y="30.92" width="11.64" height="9.87" fill="#60ff9f"/><rect x="523.03" y="30.92" width="11.64" height="9.87" fill="#9fff60"/><rect x="534.61" y="30.92" width="11.64" height="9.87" fill="#ff0000"/><rect x="302.90" y="40.74" width="11.64" height="9.87" fill="#ff8000"/><rect x="314.49" y="40.74" width="11.64" height="9.87" fill="#ffff00"/><rect x="326.07" y="40.74" width="11.64" height="9.87" fill="#ff9f00"/><rect x="337.66" y="40.74" width="11.64" height="9.87" fill="#ff6000"/><rect x="349.24" y="40.74" width="11.64" height="9.87" fill="#ff6000"/><rect x="360.83" y="40.74" width="11.64" height="9.87" fill="#ff0000"/><rect x="372.41" y="40.74" width="11.64" height="9.87" fill="#df0000"/><rect x="384.00" y="40.74" width="11.64" height="9.87" fill="#dfff20"/><rect x="395.59" y="40.74" width="11.64" height="9.87" fill="#00dfff"/><rect x="407.17" y="40.74" width="11.64" height="9.87" fill="#ffff00"/><rect x="418.76" y="40.74" width="11.64" height="9.87" fill="#ff4000"/><rect x="430.34" y="40.74" width="11.64" height="9.87" fill="#ff9f00"/><rect x="441.93" y="40.74" width="11.64" height="9.87" fill="#dfff20"/><rect x="453.51" y="40.74" width="11.64" height="9.87" fill="#9fff60"/><rect x="465.10" y="40.74" width="11.64" height="9.87" fill="#80ff80"/><rect x="476.69" y="40.74" width="11.64" height="9.87" fill="#bfff40"/><rect x="488.27" y="40.74" width="11.64" height="9.87" fill="#ff9f00"/><rect x="499.86" y="40.74" width="11.64" height="9.87" fill="#dfff20"/><rect x="511.44" y="40.74" width="11.64" height="9.87" fill="#20ffdf"/><rect x="523.03" y="40.74" width="11.64" height="9.87" fill="#20ffdf"/><rect x="534.61" y="40.74" width="11.64" height="9.87" fill="#ffff00"/><rect x="302.90" y="50.56" width="11.64" height="9.87" fill="#ffff00"/><rect x="314.49" y="50.56" width="11.64" height="9.87" fill="#dfff20"/><rect x="326.07" y="50.56" width="11.64" height="9.87" fill="#ff2000"/><rect x="337.66" y="50.56" width="11.64" height="9.87" fill="#bf0000"/><rect x="349.24" y="50.56" width="11.64" height="9.87" fill="#ff6000"/><rect x="360.83" y="50.56" width="11.64" height="9.87" fill="#ff6000"/><rect x="372.41" y="50.56" width="11.64" height="9.87" fill="#ff0000"/><rect x="384.00" y="50.56" width="11.64" height="9.87" fill="#ff4000"/><rect x="395.59" y="50.56" width="11.64" height="9.87" fill="#60ff9f"/><rect x="407.17" y="50.56" width="11.64" height="9.87" fill="#40ffbf"/><rect x="418.76" y="50.56" width="11.64" height="9.87" fill="#ff9f00"/><rect x="430.34" y="50.56" width="11.64" height="9.87" fill="#df0000"/><rect x="441.93" y="50.56" width="11.64" height="9.87" fill="#ff6000"/><rect x="453.51" y="50.56" width="11.64" height="9.87" fill="#9fff60"/><rect x="465.10" y="50.56" width="11.64" height="9.87" fill="#dfff20"/><rect x="476.69" y="50.56" width="11.64" height="9.87" fill="#ffdf00"/><rect x="488.27" y="50.56" width="11.64" height="9.87" fill="#ffdf00"/><rect x="499.86" y="50.56" width="11.64" height="9.87" fill="#9fff60"/><rect x="511.44" y="50.56" width="11.64" height="9.87" fill="#60ff9f"/><rect x="523.03" y="50.56" width="11.64" height="9.87" fill="#80ff80"/><rect x="534.61" y="50.56" width="11.64" height="9.87" fill="#dfff20"/><rect x="302.90" y="60.38" width="11.64" height="9.87" fill="#ff6000"/><rect x="314.49" y="60.38" width="11.64" height="9.87" fill="#ff8000"/><rect x="326.07" y="60.38" width="11.64" height="9.87" fill="#ff2000"/><rect x="337.66" y="60.38" width="11.64" height="9.87" fill="#ff0000"/><rect x="349.24" y="60.38" width="11.64" height="9.87" fill="#ff8000"/><rect x="360.83" y="60.38" width="11.64" height="9.87" fill="#bfff40"/><rect x="372.41" y="60.38" width="11.64" height="9.87" fill="#ffff00"/><rect x="384.00" y="60.38" width="11.64" height="9.87" fill="#9f0000"/><rect x="395.59" y="60.38" width="11.64" height="9.87" fill="#ff2000"/><rect x="407.17" y="60.38" width="11.64" height="9.87" fill="#9fff60"/><rect x="418.76" y="60.38" width="11.64" height="9.87" fill="#dfff20"/><rect x="430.34" y="60.38" width="11.64" height="9.87" fill="#ff2000"/><rect x="441.93" y="60.38" width="11.64" height="9.87" fill="#ff9f00"/><rect x="453.51" y="60.38" width="11.64" height="9.87" fill="#9fff60"/><rect x="465.10" y="60.38" width="11.64" height="9.87" fill="#ff2000"/><rect x="476.69" y="60.38" width="11.64" height="9.87" fill="#9f0000"/><rect x="488.27" y="60.38" width="11.64" height="9.87" fill="#ff2000"/><rect x="499.86" y="60.38" width="11.64" height="9.87" fill="#ff4000"/><rect x="511.44" y="60.38" width="11.64" height="9.87" fill="#ffbf00"/><rect x="523.03" y="60.38" width="11.64" height="9.87" fill="#ffdf00"/><rect x="534.61" y="60.38" width="11.64" height="9.87" fill="#ff8000"/><rect x="302.90" y="70.20" width="11.64" height="9.87" fill="#ff9f00"/><rect x="314.49" y="70.20" width="11.64" height="9.87" fill="#bfff40"/><rect x="326.07" y="70.20" width="11.64" height="9.87" fill="#ffbf00"/><rect x="337.66" y="70.20" width="11.64" height="9.87" fill="#ff0000"/><rect x="349.24" y="70.20" width="11.64" height="9.87" fill="#ff2000"/><rect x="360.83" y="70.20" width="11.64" height="9.87" fill="#bfff40"/><rect x="372.41" y="70.20" width="11.64" height="9.87" fill="#00ffff"/><rect x="384.00" y="70.20" width="11.64" height="9.87" fill="#ffdf00"/><rect x="395.59" y="70.20" width="11.64" height="9.87" fill="#df0000"/><rect x="407.17" y="70.20" width="11.64" height="9.87" fill="#ff8000"/><rect x="418.76" y="70.20" width="11.64" height="9.87" fill="#bfff40"/><rect x="430.34" y="70.20" width="11.64" height="9.87" fill="#9fff60"/><rect x="441.93" y="70.20" width="11.64" height="9.87" fill="#40ffbf"/><rect x="453.51" y="70.20" width="11.64" height="9.87" fill="#60ff9f"/><rect x="465.10" y="70.20" width="11.64" height="9.87" fill="#ff8000"/><rect x="476.69" y="70.20" width="11.64" height="9.87" fill="#ff9f00"/><rect x="488.27" y="70.20" width="11.64" height="9.87" fill="#dfff20"/><rect x="499.86" y="70.20" width="11.64" height="9.87" fill="#ffdf00"/><rect x="511.44" y="70.20" width="11.64" height="9.87" fill="#ffff00"/><rect x="523.03" y="70.20" width="11.64" height="9.87" fill="#dfff20"/><rect x="534.61" y="70.20" width="11.64" height="9.87" fill="#ff8000"/><rect x="302.90" y="80.01" width="11.64" height="9.87" fill="#40ffbf"/><rect x="314.49" y="80.01" width="11.64" height="9.87" fill="#00bfff"/><rect x="326.07" y="80.01" width="11.64" height="9.87" fill="#40ffbf"/><rect x="337.66" y="80.01" width="11.64" height="9.87" fill="#bfff40"/><rect x="349.24" y="80.01" width="11.64" height="9.87" fill="#ff9f00"/><rect x="360.83" y="80.01" width="11.64" height="9.87" fill="#80ff80"/><rect x="372.41" y="80.01" width="11.64" height="9.87" fill="#20ffdf"/><rect x="384.00" y="80.01" width="11.64" height="9.87" fill="#00ffff"/><rect x="395.59" y="80.01" width="11.64" height="9.87" fill="#80ff80"/><rect x="407.17" y="80.01" width="11.64" height="9.87" fill="#ffdf00"/><rect x="418.76" y="80.01" width="11.64" height="9.87" fill="#dfff20"/><rect x="430.34" y="80.01" width="11.64" height="9.87" fill="#40ffbf"/><rect x="441.93" y="80.01" width="11.64" height="9.87" fill="#20ffdf"/><rect x="453.51" y="80.01" width="11.64" height="9.87" fill="#ffbf00"/><rect x="465.10" y="80.01" width="11.64" height="9.87" fill="#ff2000"/><rect x="476.69" y="80.01" width="11.64" height="9.87" fill="#9fff60"/><rect x="488.27" y="80.01" width="11.64" height="9.87" fill="#00ffff"/><rect x="499.86" y="80.01" width="11.64" height="9.87" fill="#60ff9f"/><rect x="511.44" y="80.01" width="11.64" height="9.87" fill="#80ff80"/><rect x="523.03" y="80.01" width="11.64" height="9.87" fill="#00ffff"/><rect x="534.61" y="80.01" width="11.64" height="9.87" fill="#20ffdf"/><rect x="302.90" y="89.83" width="11.64" height="9.87" fill="#00dfff"/><rect x="314.49" y="89.83" width="11.64" height="9.87" fill="#20ffdf"/><rect x="326.07" y="89.83" width="11.64" height="9.87" fill="#20ffdf"/><rect x="337.66" y="89.83" width="11.64" height="9.87" fill="#00bfff"/><rect x="349.24" y="89.83" width="11.64" height="9.87" fill="#00ffff"/><rect x="360.83" y="89.83" width="11.64" height="9.87" fill="#20ffdf"/><rect x="372.41" y="89.83" width="11.64" height="9.87" fill="#60ff9f"/><rect x="384.00" y="89.83" width="11.64" height="9.87" fill="#9fff60"/><rect x="395.59" y="89.83" width="11.64" height="9.87" fill="#00dfff"/><rect x="407.17" y="89.83" width="11.64" height="9.87" fill="#80ff80"/><rect x="418.76" y="89.83" width="11.64" height="9.87" fill="#bfff40"/><rect x="430.34" y="89.83" width="11.64" height="9.87" fill="#00dfff"/><rect x="441.93" y="89.83" width="11.64" height="9.87" fill="#00ffff"/><rect x="453.51" y="89.83" width="11.64" height="9.87" fill="#ff4000"/><rect x="465.10" y="89.83" width="11.64" height="9.87" fill="#bf0000"/><rect x="476.69" y="89.83" width="11.64" height="9.87" fill="#ff4000"/><rect x="488.27" y="89.83" width="11.64" height="9.87" fill="#ff6000"/><rect x="499.86" y="89.83" width="11.64" height="9.87" fill="#ff9f00"/><rect x="511.44" y="89.83" width="11.64" height="9.87" fill="#bfff40"/><rect x="523.03" y="89.83" width="11.64" height="9.87" fill="#60ff9f"/><rect x="534.61" y="89.83" width="11.64" height="9.87" fill="#0080ff"/><rect x="302.90" y="99.65" width="11.64" height="9.87" fill="#80ff80"/><rect x="314.49" y="99.65" width="11.64" height="9.87" fill="#60ff9f"/><rect x="326.07" y="99.65" width="11.64" height="9.87" fill="#dfff20"/><rect x="337.66" y="99.65" width="11.64" height="9.87" fill="#40ffbf"/><rect x="349.24" y="99.65" width="11.64" height="9.87" fill="#00dfff"/><rect x="360.83" y="99.65" width="11.64" height="9.87" fill="#20ffdf"/><rect x="372.41" y="99.65" width="11.64" height="9.87" fill="#60ff9f"/><rect x="384.00" y="99.65" width="11.64" height="9.87" fill="#ffbf00"/><rect x="395.59" y="99.65" width="11.64" height="9.87" fill="#80ff80"/><rect x="407.17" y="99.65" width="11.64" height="9.87" fill="#40ffbf"/><rect x="418.76" y="99.65" width="11.64" height="9.87" fill="#00ffff"/><rect x="430.34" y="99.65" width="11.64" height="9.87" fill="#009fff"/><rect x="441.93" y="99.65" width="11.64" height="9.87" fill="#60ff9f"/><rect x="453.51" y="99.65" width="11.64" height="9.87" fill="#ffff00"/><rect x="465.10" y="99.65" width="11.64" height="9.87" fill="#ffdf00"/><rect x="476.69" y="99.65" width="11.64" height="9.87" fill="#ffbf00"/><rect x="488.27" y="99.65" width="11.64" height="9.87" fill="#ff8000"/><rect x="499.86" y="99.65" width="11.64" height="9.87" fill="#ffff00"/><rect x="511.44" y="99.65" width="11.64" height="9.87" fill="#bfff40"/><rect x="523.03" y="99.65" width="11.64" height="9.87" fill="#ffdf00"/><rect x="534.61" y="99.65" width="11.64" height="9.87" fill="#80ff80"/><rect x="302.90" y="109.47" width="11.64" height="9.87" fill="#dfff20"/><rect x="314.49" y="109.47" width="11.64" height="9.87" fill="#40ffbf"/><rect x="326.07" y="109.47" width="11.64" height="9.87" fill="#dfff20"/><rect x="337.66" y="109.47" width="11.64" height="9.87" fill="#ffdf00"/><rect x="349.24" y="109.47" width="11.64" height="9.87" fill="#ffff00"/><rect x="360.83" y="109.47" width="11.64" height="9.87" fill="#9fff60"/><rect x="372.41" y="109.47" width="11.64" height="9.87" fill="#9fff60"/><rect x="384.00" y="109.47" width="11.64" height="9.87" fill="#ff9f00"/><rect x="395.59" y="109.47" width="11.64" height="9.87" fill="#80ff80"/><rect x="407.17" y="109.47" width="11.64" height="9.87" fill="#00bfff"/><rect x="418.76" y="109.47" width="11.64" height="9.87" fill="#00bfff"/><rect x="430.34" y="109.47" width="11.64" height="9.87" fill="#00dfff"/><rect x="441.93" y="109.47" width="11.64" height="9.87" fill="#00ffff"/><rect x="453.51" y="109.47" width="11.64" height="9.87" fill="#60ff9f"/><rect x="465.10" y="109.47" width="11.64" height="9.87" fill="#20ffdf"/><rect x="476.69" y="109.47" width="11.64" height="9.87" fill="#009fff"/><rect x="488.27" y="109.47" width="11.64" height="9.87" fill="#20ffdf"/><rect x="499.86" y="109.47" width="11.64" height="9.87" fill="#20ffdf"/><rect x="511.44" y="109.47" width="11.64" height="9.87" fill="#20ffdf"/><rect x="523.03" y="109.47" width="11.64" height="9.87" fill="#dfff20"/><rect x="534.61" y="109.47" width="11.64" height="9.87" fill="#ffdf00"/><rect x="302.90" y="119.29" width="11.64" height="9.87" fill="#dfff20"/><rect x="314.49" y="119.29" width="11.64" height="9.87" fill="#009fff"/><rect x="326.07" y="119.29" width="11.64" height="9.87" fill="#60ff9f"/><rect x="337.66" y="119.29" width="11.64" height="9.87" fill="#9fff60"/><rect x="349.24" y="119.29" width="11.64" height="9.87" fill="#ff6000"/><rect x="360.83" y="119.29" width="11.64" height="9.87" fill="#ff9f00"/><rect x="372.41" y="119.29" width="11.64" height="9.87" fill="#ffdf00"/><rect x="384.00" y="119.29" width="11.64" height="9.87" fill="#dfff20"/><rect x="395.59" y="119.29" width="11.64" height="9.87" fill="#20ffdf"/><rect x="407.17" y="119.29" width="11.64" height="9.87" fill="#00dfff"/><rect x="418.76" y="119.29" width="11.64" height="9.87" fill="#00dfff"/><rect x="430.34" y="119.29" width="11.64" height="9.87" fill="#00bfff"/><rect x="441.93" y="119.29" width="11.64" height="9.87" fill="#00dfff"/><rect x="453.51" y="119.29" width="11.64" height="9.87" fill="#60ff9f"/><rect x="465.10" y="119.29" width="11.64" height="9.87" fill="#60ff9f"/><rect x="476.69" y="119.29" width="11.64" height="9.87" fill="#009fff"/><rect x="488.27" y="119.29" width="11.64" height="9.87" fill="#00ffff"/><rect x="499.86" y="119.29" width="11.64" height="9.87" fill="#80ff80"/><rect x="511.44" y="119.29" width="11.64" height="9.87" fill="#bfff40"/><rect x="523.03" y="119.29" width="11.64" height="9.87" fill="#9fff60"/><rect x="534.61" y="119.29" width="11.64" height="9.87" fill="#bfff40"/><rect x="302.90" y="129.11" width="11.64" height="9.87" fill="#40ffbf"/><rect x="314.49" y="129.11" width="11.64" height="9.87" fill="#00dfff"/><rect x="326.07" y="129.11" width="11.64" height="9.87" fill="#0080ff"/><rect x="337.66" y="129.11" width="11.64" height="9.87" fill="#20ffdf"/><rect x="349.24" y="129.11" width="11.64" height="9.87" fill="#40ffbf"/><rect x="360.83" y="129.11" width="11.64" height="9.87" fill="#40ffbf"/><rect x="372.41" y="129.11" width="11.64" height="9.87" fill="#60ff9f"/><rect x="384.00" y="129.11" width="11.64" height="9.87" fill="#00dfff"/><rect x="395.59" y="129.11" width="11.64" height="9.87" fill="#00dfff"/><rect x="407.17" y="129.11" width="11.64" height="9.87" fill="#00ffff"/><rect x="418.76" y="129.11" width="11.64" height="9.87" fill="#009fff"/><rect x="430.34" y="129.11" width="11.64" height="9.87" fill="#00dfff"/><rect x="441.93" y="129.11" width="11.64" height="9.87" fill="#00dfff"/><rect x="453.51" y="129.11" width="11.64" height="9.87" fill="#80ff80"/><rect x="465.10" y="129.11" width="11.64" height="9.87" fill="#dfff20"/><rect x="476.69" y="129.11" width="11.64" height="9.87" fill="#20ffdf"/><rect x="488.27" y="129.11" width="11.64" height="9.87" fill="#00ffff"/><rect x="499.86" y="129.11" width="11.64" height="9.87" fill="#60ff9f"/><rect x="511.44" y="129.11" width="11.64" height="9.87" fill="#ff8000"/><rect x="523.03" y="129.11" width="11.64" height="9.87" fill="#ffbf00"/><rect x="534.61" y="129.11" width="11.64" height="9.87" fill="#60ff9f"/><rect x="302.90" y="138.93" width="11.64" height="9.87" fill="#00dfff"/><rect x="314.49" y="138.93" width="11.64" height="9.87" fill="#0020ff"/><rect x="326.07" y="138.93" width="11.64" height="9.87" fill="#0020ff"/><rect x="337.66" y="138.93" width="11.64" height="9.87" fill="#0000df"/><rect x="349.24" y="138.93" width="11.64" height="9.87" fill="#009fff"/><rect x="360.83" y="138.93" width="11.64" height="9.87" fill="#00dfff"/><rect x="372.41" y="138.93" width="11.64" height="9.87" fill="#20ffdf"/><rect x="384.00" y="138.93" width="11.64" height="9.87" fill="#00ffff"/><rect x="395.59" y="138.93" width="11.64" height="9.87" fill="#00ffff"/><rect x="407.17" y="138.93" width="11.64" height="9.87" fill="#40ffbf"/><rect x="418.76" y="138.93" width="11.64" height="9.87" fill="#60ff9f"/><rect x="430.34" y="138.93" width="11.64" height="9.87" fill="#00dfff"/><rect x="441.93" y="138.93" width="11.64" height="9.87" fill="#0060ff"/><rect x="453.51" y="138.93" width="11.64" height="9.87" fill="#00dfff"/><rect x="465.10" y="138.93" width="11.64" height="9.87" fill="#9fff60"/><rect x="476.69" y="138.93" width="11.64" height="9.87" fill="#00dfff"/><rect x="488.27" y="138.93" width="11.64" height="9.87" fill="#0000ff"/><rect x="499.86" y="138.93" width="11.64" height="9.87" fill="#00dfff"/><rect x="511.44" y="138.93" width="11.64" height="9.87" fill="#dfff20"/><rect x="523.03" y="138.93" width="11.64" height="9.87" fill="#ffdf00"/><rect x="534.61" y="138.93" width="11.64" height="9.87" fill="#60ff9f"/><rect x="302.90" y="148.75" width="11.64" height="9.87" fill="#009fff"/><rect x="314.49" y="148.75" width="11.64" height="9.87" fill="#0020ff"/><rect x="326.07" y="148.75" width="11.64" height="9.87" fill="#0000ff"/><rect x="337.66" y="148.75" width="11.64" height="9.87" fill="#0060ff"/><rect x="349.24" y="148.75" width="11.64" height="9.87" fill="#20ffdf"/><rect x="360.83" y="148.75" width="11.64" height="9.87" fill="#40ffbf"/><rect x="372.41" y="148.75" width="11.64" height="9.87" fill="#00ffff"/><rect x="384.00" y="148.75" width="11.64" height="9.87" fill="#0020ff"/><rect x="395.59" y="148.75" width="11.64" height="9.87" fill="#0060ff"/><rect x="407.17" y="148.75" width="11.64" height="9.87" fill="#9fff60"/><rect x="418.76" y="148.75" width="11.64" height="9.87" fill="#60ff9f"/><rect x="430.34" y="148.75" width="11.64" height="9.87" fill="#0080ff"/><rect x="441.93" y="148.75" width="11.64" height="9.87" fill="#00bfff"/><rect x="453.51" y="148.75" width="11.64" height="9.87" fill="#80ff80"/><rect x="465.10" y="148.75" width="11.64" height="9.87" fill="#bfff40"/><rect x="476.69" y="148.75" width="11.64" height="9.87" fill="#80ff80"/><rect x="488.27" y="148.75" width="11.64" height="9.87" fill="#20ffdf"/><rect x="499.86" y="148.75" width="11.64" height="9.87" fill="#40ffbf"/><rect x="511.44" y="148.75" width="11.64" height="9.87" fill="#9fff60"/><rect x="523.03" y="148.75" width="11.64" height="9.87" fill="#9fff60"/><rect x="534.61" y="148.75" width="11.64" height="9.87" fill="#20ffdf"/><rect x="302.90" y="158.57" width="11.64" height="9.87" fill="#0020ff"/><rect x="314.49" y="158.57" width="11.64" height="9.87" fill="#0020ff"/><rect x="326.07" y="158.57" width="11.64" height="9.87" fill="#00dfff"/><rect x="337.66" y="158.57" width="11.64" height="9.87" fill="#bfff40"/><rect x="349.24" y="158.57" width="11.64" height="9.87" fill="#9fff60"/><rect x="360.83" y="158.57" width="11.64" height="9.87" fill="#009fff"/><rect x="372.41" y="158.57" width="11.64" height="9.87" fill="#0060ff"/><rect x="384.00" y="158.57" width="11.64" height="9.87" fill="#0000df"/><rect x="395.59" y="158.57" width="11.64" height="9.87" fill="#0020ff"/><rect x="407.17" y="158.57" width="11.64" height="9.87" fill="#00ffff"/><rect x="418.76" y="158.57" width="11.64" height="9.87" fill="#0080ff"/><rect x="430.34" y="158.57" width="11.64" height="9.87" fill="#0080ff"/><rect x="441.93" y="158.57" width="11.64" height="9.87" fill="#20ffdf"/><rect x="453.51" y="158.57" width="11.64" height="9.87" fill="#20ffdf"/><rect x="465.10" y="158.57" width="11.64" height="9.87" fill="#00dfff"/><rect x="476.69" y="158.57" width="11.64" height="9.87" fill="#bfff40"/><rect x="488.27" y="158.57" width="11.64" height="9.87" fill="#ffdf00"/><rect x="499.86" y="158.57" width="11.64" height="9.87" fill="#20ffdf"/><rect x="511.44" y="158.57" width="11.64" height="9.87" fill="#0060ff"/><rect x="523.03" y="158.57" width="11.64" height="9.87" fill="#0080ff"/><rect x="534.61" y="158.57" width="11.64" height="9.87" fill="#00dfff"/><rect x="302.90" y="168.39" width="11.64" height="9.87" fill="#0060ff"/><rect x="314.49" y="168.39" width="11.64" height="9.87" fill="#0060ff"/><rect x="326.07" y="168.39" width="11.64" height="9.87" fill="#00dfff"/><rect x="337.66" y="168.39" width="11.64" height="9.87" fill="#60ff9f"/><rect x="349.24" y="168.39" width="11.64" height="9.87" fill="#00ffff"/><rect x="360.83" y="168.39" width="11.64" height="9.87" fill="#0000ff"/><rect x="372.41" y="168.39" width="11.64" height="9.87" fill="#0040ff"/><rect x="384.00" y="168.39" width="11.64" height="9.87" fill="#0060ff"/><rect x="395.59" y="168.39" width="11.64" height="9.87" fill="#0000ff"/><rect x="407.17" y="168.39" width="11.64" height="9.87" fill="#0020ff"/><rect x="418.76" y="168.39" width="11.64" height="9.87" fill="#0060ff"/><rect x="430.34" y="168.39" width="11.64" height="9.87" fill="#00bfff"/><rect x="441.93" y="168.39" width="11.64" height="9.87" fill="#0060ff"/><rect x="453.51" y="168.39" width="11.64" height="9.87" fill="#0020ff"/><rect x="465.10" y="168.39" width="11.64" height="9.87" fill="#0040ff"/><rect x="476.69" y="168.39" width="11.64" height="9.87" fill="#20ffdf"/><rect x="488.27" y="168.39" width="11.64" height="9.87" fill="#60ff9f"/><rect x="499.86" y="168.39" width="11.64" height="9.87" fill="#0060ff"/><rect x="511.44" y="168.39" width="11.64" height="9.87" fill="#0000df"/><rect x="523.03" y="168.39" width="11.64" height="9.87" fill="#0040ff"/><rect x="534.61" y="168.39" width="11.64" height="9.87" fill="#00dfff"/><rect x="302.90" y="178.20" width="11.64" height="9.87" fill="#0040ff"/><rect x="314.49" y="178.20" width="11.64" height="9.87" fill="#0040ff"/><rect x="326.07" y="178.20" width="11.64" height="9.87" fill="#20ffdf"/><rect x="337.66" y="178.20" width="11.64" height="9.87" fill="#20ffdf"/><rect x="349.24" y="178.20" width="11.64" height="9.87" fill="#0000df"/><rect x="360.83" y="178.20" width="11.64" height="9.87" fill="#0020ff"/><rect x="372.41" y="178.20" width="11.64" height="9.87" fill="#00bfff"/><rect x="384.00" y="178.20" width="11.64" height="9.87" fill="#009fff"/><rect x="395.59" y="178.20" width="11.64" height="9.87" fill="#0000ff"/><rect x="407.17" y="178.20" width="11.64" height="9.87" fill="#0000df"/><rect x="418.76" y="178.20" width="11.64" height="9.87" fill="#0000df"/><rect x="430.34" y="178.20" width="11.64" height="9.87" fill="#0020ff"/><rect x="441.93" y="178.20" width="11.64" height="9.87" fill="#0040ff"/><rect x="453.51" y="178.20" width="11.64" height="9.87" fill="#0060ff"/><rect x="465.10" y="178.20" width="11.64" height="9.87" fill="#0000df"/><rect x="476.69" y="178.20" width="11.64" height="9.87" fill="#0040ff"/><rect x="488.27" y="178.20" width="11.64" height="9.87" fill="#0060ff"/><rect x="499.86" y="178.20" width="11.64" height="9.87" fill="#0040ff"/><rect x="511.44" y="178.20" width="11.64" height="9.87" fill="#00bfff"/><rect x="523.03" y="178.20" width="11.64" height="9.87" fill="#00dfff"/><rect x="534.61" y="178.20" width="11.64" height="9.87" fill="#00dfff"/><rect x="302.90" y="188.02" width="11.64" height="9.87" fill="#0060ff"/><rect x="314.49" y="188.02" width="11.64" height="9.87" fill="#00009f"/><rect x="326.07" y="188.02" width="11.64" height="9.87" fill="#0060ff"/><rect x="337.66" y="188.02" width="11.64" height="9.87" fill="#00ffff"/><rect x="349.24" y="188.02" width="11.64" height="9.87" fill="#0000df"/><rect x="360.83" y="188.02" width="11.64" height="9.87" fill="#0000bf"/><rect x="372.41" y="188.02" width="11.64" height="9.87" fill="#0060ff"/><rect x="384.00" y="188.02" width="11.64" height="9.87" fill="#0060ff"/><rect x="395.59" y="188.02" width="11.64" height="9.87" fill="#0040ff"/><rect x="407.17" y="188.02" width="11.64" height="9.87" fill="#0020ff"/><rect x="418.76" y="188.02" width="11.64" height="9.87" fill="#0000bf"/><rect x="430.34" y="188.02" width="11.64" height="9.87" fill="#0020ff"/><rect x="441.93" y="188.02" width="11.64" height="9.87" fill="#20ffdf"/><rect x="453.51" y="188.02" width="11.64" height="9.87" fill="#60ff9f"/><rect x="465.10" y="188.02" width="11.64" height="9.87" fill="#00ffff"/><rect x="476.69" y="188.02" width="11.64" height="9.87" fill="#0020ff"/><rect x="488.27" y="188.02" width="11.64" height="9.87" fill="#0000bf"/><rect x="499.86" y="188.02" width="11.64" height="9.87" fill="#0060ff"/><rect x="511.44" y="188.02" width="11.64" height="9.87" fill="#80ff80"/><rect x="523.03" y="188.02" width="11.64" height="9.87" fill="#9fff60"/><rect x="534.61" y="188.02" width="11.64" height="9.87" fill="#20ffdf"/><rect x="302.90" y="197.84" width="11.64" height="9.87" fill="#009fff"/><rect x="314.49" y="197.84" width="11.64" height="9.87" fill="#0000df"/><rect x="326.07" y="197.84" width="11.64" height="9.87" fill="#0000df"/><rect x="337.66" y="197.84" width="11.64" height="9.87" fill="#009fff"/><rect x="349.24" y="197.84" width="11.64" height="9.87" fill="#0080ff"/><rect x="360.83" y="197.84" width="11.64" height="9.87" fill="#0020ff"/><rect x="372.41" y="197.84" width="11.64" height="9.87" fill="#0060ff"/><rect x="384.00" y="197.84" width="11.64" height="9.87" fill="#009fff"/><rect x="395.59" y="197.84" width="11.64" height="9.87" fill="#0080ff"/><rect x="407.17" y="197.84" width="11.64" height="9.87" fill="#0020ff"/><rect x="418.76" y="197.84" width="11.64" height="9.87" fill="#0000df"/><rect x="430.34" y="197.84" width="11.64" height="9.87" fill="#0020ff"/><rect x="441.93" y="197.84" width="11.64" height="9.87" fill="#009fff"/><rect x="453.51" y="197.84" width="11.64" height="9.87" fill="#20ffdf"/><rect x="465.10" y="197.84" width="11.64" height="9.87" fill="#60ff9f"/><rect x="476.69" y="197.84" width="11.64" height="9.87" fill="#00dfff"/><rect x="488.27" y="197.84" width="11.64" height="9.87" fill="#0000df"/><rect x="499.86" y="197.84" width="11.64" height="9.87" fill="#0040ff"/><rect x="511.44" y="197.84" width="11.64" height="9.87" fill="#00ffff"/><rect x="523.03" y="197.84" width="11.64" height="9.87" fill="#00ffff"/><rect x="534.61" y="197.84" width="11.64" height="9.87" fill="#00dfff"/><rect x="302.90" y="207.66" width="11.64" height="9.87" fill="#20ffdf"/><rect x="314.49" y="207.66" width="11.64" height="9.87" fill="#0060ff"/><rect x="326.07" y="207.66" width="11.64" height="9.87" fill="#0040ff"/><rect x="337.66" y="207.66" width="11.64" height="9.87" fill="#00dfff"/><rect x="349.24" y="207.66" width="11.64" height="9.87" fill="#00bfff"/><rect x="360.83" y="207.66" width="11.64" height="9.87" fill="#0000df"/><rect x="372.41" y="207.66" width="11.64" height="9.87" fill="#0080ff"/><rect x="384.00" y="207.66" width="11.64" height="9.87" fill="#80ff80"/><rect x="395.59" y="207.66" width="11.64" height="9.87" fill="#00dfff"/><rect x="407.17" y="207.66" width="11.64" height="9.87" fill="#0020ff"/><rect x="418.76" y="207.66" width="11.64" height="9.87" fill="#0060ff"/><rect x="430.34" y="207.66" width="11.64" height="9.87" fill="#0080ff"/><rect x="441.93" y="207.66" width="11.64" height="9.87" fill="#0080ff"/><rect x="453.51" y="207.66" width="11.64" height="9.87" fill="#009fff"/><rect x="465.10" y="207.66" width="11.64" height="9.87" fill="#20ffdf"/><rect x="476.69" y="207.66" width="11.64" height="9.87" fill="#00dfff"/><rect x="488.27" y="207.66" width="11.64" height="9.87" fill="#0040ff"/><rect x="499.86" y="207.66" width="11.64" height="9.87" fill="#0060ff"/><rect x="511.44" y="207.66" width="11.64" height="9.87" fill="#0060ff"/><rect x="523.03" y="207.66" width="11.64" height="9.87" fill="#0020ff"/><rect x="534.61" y="207.66" width="11.64" height="9.87" fill="#00dfff"/><rect x="302.90" y="217.48" width="11.64" height="9.87" fill="#20ffdf"/><rect x="314.49" y="217.48" width="11.64" height="9.87" fill="#0000ff"/><rect x="326.07" y="217.48" width="11.64" height="9.87" fill="#0000bf"/><rect x="337.66" y="217.48" width="11.64" height="9.87" fill="#00bfff"/><rect x="349.24" y="217.48" width="11.64" height="9.87" fill="#00dfff"/><rect x="360.83" y="217.48" width="11.64" height="9.87" fill="#0000df"/><rect x="372.41" y="217.48" width="11.64" height="9.87" fill="#0020ff"/><rect x="384.00" y="217.48" width="11.64" height="9.87" fill="#20ffdf"/><rect x="395.59" y="217.48" width="11.64" height="9.87" fill="#009fff"/><rect x="407.17" y="217.48" width="11.64" height="9.87" fill="#0000ff"/><rect x="418.76" y="217.48" width="11.64" height="9.87" fill="#0020ff"/><rect x="430.34" y="217.48" width="11.64" height="9.87" fill="#0020ff"/><rect x="441.93" y="217.48" width="11.64" height="9.87" fill="#0060ff"/><rect x="453.51" y="217.48" width="11.64" height="9.87" fill="#00bfff"/><rect x="465.10" y="217.48" width="11.64" height="9.87" fill="#00dfff"/><rect x="476.69" y="217.48" width="11.64" height="9.87" fill="#00dfff"/><rect x="488.27" y="217.48" width="11.64" height="9.87" fill="#0020ff"/><rect x="499.86" y="217.48" width="11.64" height="9.87" fill="#0060ff"/><rect x="511.44" y="217.48" width="11.64" height="9.87" fill="#0020ff"/><rect x="523.03" y="217.48" width="11.64" height="9.87" fill="#0020ff"/><rect x="534.61" y="217.48" width="11.64" height="9.87" fill="#00dfff"/><path d="M302.90 21.10V227.30M314.49 21.10V227.30M326.07 21.10V227.30M337.66 21.10V227.30M349.24 21.10V227.30M360.83 21.10V227.30M372.41 21.10V227.30M384.00 21.10V227.30M395.59 21.10V227.30M407.17 21.10V227.30M418.76 21.10V227.30M430.34 21.10V227.30M441.93 21.10V227.30M453.51 21.10V227.30M465.10 21.10V227.30M476.69 21.10V227.30M488.27 21.10V227.30M499.86 21.10V227.30M511.44 21.10V227.30M523.03 21.10V227.30M534.61 21.10V227.30M546.20 21.10V227.30M302.90 21.10H546.20M302.90 30.92H546.20M302.90 40.74H546.20M302.90 50.56H546.20M302.90 60.38H546.20M302.90 70.20H546.20M302.90 80.01H546.20M302.90 89.83H546.20M302.90 99.65H546.20M302.90 109.47H546.20M302.90 119.29H546.20M302.90 129.11H546.20M302.90 138.93H546.20M302.90 148.75H546.20M302.90 158.57H546.20M302.90 168.39H546.20M302.90 178.20H546.20M302.90 188.02H546.20M302.90 197.84H546.20M302.90 207.66H546.20M302.90 217.48H546.20M302.90 227.30H546.20" stroke="#787878" stroke-width="0.45" fill="none"/><text class="tk" text-anchor="end" transform="translate(301.30 221.88) scale(0.810 1)">2</text><text class="tk" text-anchor="middle" transform="translate(314.19 237.00) scale(0.810 1)">2</text><text class="tk" text-anchor="end" transform="translate(301.30 202.24) scale(0.810 1)">4</text><text class="tk" text-anchor="middle" transform="translate(337.36 237.00) scale(0.810 1)">4</text><text class="tk" text-anchor="end" transform="translate(301.30 182.60) scale(0.810 1)">6</text><text class="tk" text-anchor="middle" transform="translate(360.53 237.00) scale(0.810 1)">6</text><text class="tk" text-anchor="end" transform="translate(301.30 162.97) scale(0.810 1)">8</text><text class="tk" text-anchor="middle" transform="translate(383.70 237.00) scale(0.810 1)">8</text><text class="tk" text-anchor="end" transform="translate(301.00 143.33) scale(0.810 1)">10</text><text class="tk" text-anchor="middle" transform="translate(406.87 237.00) scale(0.810 1)">10</text><text class="tk" text-anchor="end" transform="translate(301.00 123.69) scale(0.810 1)">12</text><text class="tk" text-anchor="middle" transform="translate(430.04 237.00) scale(0.810 1)">12</text><text class="tk" text-anchor="end" transform="translate(301.00 104.05) scale(0.810 1)">14</text><text class="tk" text-anchor="middle" transform="translate(453.21 237.00) scale(0.810 1)">14</text><text class="tk" text-anchor="end" transform="translate(301.00 84.41) scale(0.810 1)">16</text><text class="tk" text-anchor="middle" transform="translate(476.39 237.00) scale(0.810 1)">16</text><text class="tk" text-anchor="end" transform="translate(301.00 64.78) scale(0.810 1)">18</text><text class="tk" text-anchor="middle" transform="translate(499.56 237.00) scale(0.810 1)">18</text><text class="tk" text-anchor="end" transform="translate(301.00 45.14) scale(0.810 1)">20</text><text class="tk" text-anchor="middle" transform="translate(522.73 237.00) scale(0.810 1)">20</text><text class="tk" text-anchor="end" transform="translate(301.00 25.50) scale(0.810 1)">22</text><text class="tk" text-anchor="middle" transform="translate(545.90 237.00) scale(0.810 1)">22</text>
<rect x="22.30" y="303.10" width="11.61" height="9.83" fill="#ffdf00"/><rect x="33.86" y="303.10" width="11.61" height="9.83" fill="#60ff9f"/><rect x="45.41" y="303.10" width="11.61" height="9.83" fill="#009fff"/><rect x="56.97" y="303.10" width="11.61" height="9.83" fill="#bfff40"/><rect x="68.53" y="303.10" width="11.61" height="9.83" fill="#dfff20"/><rect x="80.09" y="303.10" width="11.61" height="9.83" fill="#00bfff"/><rect x="91.64" y="303.10" width="11.61" height="9.83" fill="#00bfff"/><rect x="103.20" y="303.10" width="11.61" height="9.83" fill="#00dfff"/><rect x="114.76" y="303.10" width="11.61" height="9.83" fill="#0080ff"/><rect x="126.31" y="303.10" width="11.61" height="9.83" fill="#0040ff"/><rect x="137.87" y="303.10" width="11.61" height="9.83" fill="#00dfff"/><rect x="149.43" y="303.10" width="11.61" height="9.83" fill="#00dfff"/><rect x="160.99" y="303.10" width="11.61" height="9.83" fill="#20ffdf"/><rect x="172.54" y="303.10" width="11.61" height="9.83" fill="#9fff60"/><rect x="184.10" y="303.10" width="11.61" height="9.83" fill="#9fff60"/><rect x="195.66" y="303.10" width="11.61" height="9.83" fill="#ff6000"/><rect x="207.21" y="303.10" width="11.61" height="9.83" fill="#ff2000"/><rect x="218.77" y="303.10" width="11.61" height="9.83" fill="#40ffbf"/><rect x="230.33" y="303.10" width="11.61" height="9.83" fill="#009fff"/><rect x="241.89" y="303.10" width="11.61" height="9.83" fill="#20ffdf"/><rect x="253.44" y="303.10" width="11.61" height="9.83" fill="#ffbf00"/><rect x="22.30" y="312.88" width="11.61" height="9.83" fill="#ff0000"/><rect x="33.86" y="312.88" width="11.61" height="9.83" fill="#ffff00"/><rect x="45.41" y="312.88" width="11.61" height="9.83" fill="#00ffff"/><rect x="56.97" y="312.88" width="11.61" height="9.83" fill="#20ffdf"/><rect x="68.53" y="312.88" width="11.61" height="9.83" fill="#60ff9f"/><rect x="80.09" y="312.88" width="11.61" height="9.83" fill="#60ff9f"/><rect x="91.64" y="312.88" width="11.61" height="9.83" fill="#dfff20"/><rect x="103.20" y="312.88" width="11.61" height="9.83" fill="#60ff9f"/><rect x="114.76" y="312.88" width="11.61" height="9.83" fill="#009fff"/><rect x="126.31" y="312.88" width="11.61" height="9.83" fill="#00dfff"/><rect x="137.87" y="312.88" width="11.61" height="9.83" fill="#9fff60"/><rect x="149.43" y="312.88" width="11.61" height="9.83" fill="#60ff9f"/><rect x="160.99" y="312.88" width="11.61" height="9.83" fill="#9fff60"/><rect x="172.54" y="312.88" width="11.61" height="9.83" fill="#ff9f00"/><rect x="184.10" y="312.88" width="11.61" height="9.83" fill="#ffbf00"/><rect x="195.66" y="312.88" width="11.61" height="9.83" fill="#ff8000"/><rect x="207.21" y="312.88" width="11.61" height="9.83" fill="#ff2000"/><rect x="218.77" y="312.88" width="11.61" height="9.83" fill="#ffff00"/><rect x="230.33" y="312.88" width="11.61" height="9.83" fill="#20ffdf"/><rect x="241.89" y="312.88" width="11.61" height="9.83" fill="#40ffbf"/><rect x="253.44" y="312.88" width="11.61" height="9.83" fill="#ff9f00"/><rect x="22.30" y="322.66" width="11.61" height="9.83" fill="#ffbf00"/><rect x="33.86" y="322.66" width="11.61" height="9.83" fill="#80ff80"/><rect x="45.41" y="322.66" width="11.61" height="9.83" fill="#ffff00"/><rect x="56.97" y="322.66" width="11.61" height="9.83" fill="#ffbf00"/><rect x="68.53" y="322.66" width="11.61" height="9.83" fill="#ffdf00"/><rect x="80.09" y="322.66" width="11.61" height="9.83" fill="#ff8000"/><rect x="91.64" y="322.66" width="11.61" height="9.83" fill="#ff6000"/><rect x="103.20" y="322.66" width="11.61" height="9.83" fill="#60ff9f"/><rect x="114.76" y="322.66" width="11.61" height="9.83" fill="#009fff"/><rect x="126.31" y="322.66" width="11.61" height="9.83" fill="#80ff80"/><rect x="137.87" y="322.66" width="11.61" height="9.83" fill="#ffdf00"/><rect x="149.43" y="322.66" width="11.61" height="9.83" fill="#dfff20"/><rect x="160.99" y="322.66" width="11.61" height="9.83" fill="#40ffbf"/><rect x="172.54" y="322.66" width="11.61" height="9.83" fill="#20ffdf"/><rect x="184.10" y="322.66" width="11.61" height="9.83" fill="#00ffff"/><rect x="195.66" y="322.66" width="11.61" height="9.83" fill="#20ffdf"/><rect x="207.21" y="322.66" width="11.61" height="9.83" fill="#dfff20"/><rect x="218.77" y="322.66" width="11.61" height="9.83" fill="#40ffbf"/><rect x="230.33" y="322.66" width="11.61" height="9.83" fill="#00bfff"/><rect x="241.89" y="322.66" width="11.61" height="9.83" fill="#00bfff"/><rect x="253.44" y="322.66" width="11.61" height="9.83" fill="#60ff9f"/><rect x="22.30" y="332.44" width="11.61" height="9.83" fill="#dfff20"/><rect x="33.86" y="332.44" width="11.61" height="9.83" fill="#60ff9f"/><rect x="45.41" y="332.44" width="11.61" height="9.83" fill="#ff8000"/><rect x="56.97" y="332.44" width="11.61" height="9.83" fill="#ff2000"/><rect x="68.53" y="332.44" width="11.61" height="9.83" fill="#ffbf00"/><rect x="80.09" y="332.44" width="11.61" height="9.83" fill="#ffdf00"/><rect x="91.64" y="332.44" width="11.61" height="9.83" fill="#ff8000"/><rect x="103.20" y="332.44" width="11.61" height="9.83" fill="#ff9f00"/><rect x="114.76" y="332.44" width="11.61" height="9.83" fill="#00dfff"/><rect x="126.31" y="332.44" width="11.61" height="9.83" fill="#00dfff"/><rect x="137.87" y="332.44" width="11.61" height="9.83" fill="#dfff20"/><rect x="149.43" y="332.44" width="11.61" height="9.83" fill="#ff4000"/><rect x="160.99" y="332.44" width="11.61" height="9.83" fill="#ffff00"/><rect x="172.54" y="332.44" width="11.61" height="9.83" fill="#20ffdf"/><rect x="184.10" y="332.44" width="11.61" height="9.83" fill="#40ffbf"/><rect x="195.66" y="332.44" width="11.61" height="9.83" fill="#80ff80"/><rect x="207.21" y="332.44" width="11.61" height="9.83" fill="#80ff80"/><rect x="218.77" y="332.44" width="11.61" height="9.83" fill="#20ffdf"/><rect x="230.33" y="332.44" width="11.61" height="9.83" fill="#00dfff"/><rect x="241.89" y="332.44" width="11.61" height="9.83" fill="#00dfff"/><rect x="253.44" y="332.44" width="11.61" height="9.83" fill="#40ffbf"/><rect x="22.30" y="342.22" width="11.61" height="9.83" fill="#ff9f00"/><rect x="33.86" y="342.22" width="11.61" height="9.83" fill="#ffff00"/><rect x="45.41" y="342.22" width="11.61" height="9.83" fill="#ff9f00"/><rect x="56.97" y="342.22" width="11.61" height="9.83" fill="#ff8000"/><rect x="68.53" y="342.22" width="11.61" height="9.83" fill="#dfff20"/><rect x="80.09" y="342.22" width="11.61" height="9.83" fill="#40ffbf"/><rect x="91.64" y="342.22" width="11.61" height="9.83" fill="#60ff9f"/><rect x="103.20" y="342.22" width="11.61" height="9.83" fill="#ff2000"/><rect x="114.76" y="342.22" width="11.61" height="9.83" fill="#ff9f00"/><rect x="126.31" y="342.22" width="11.61" height="9.83" fill="#20ffdf"/><rect x="137.87" y="342.22" width="11.61" height="9.83" fill="#40ffbf"/><rect x="149.43" y="342.22" width="11.61" height="9.83" fill="#ff9f00"/><rect x="160.99" y="342.22" width="11.61" height="9.83" fill="#dfff20"/><rect x="172.54" y="342.22" width="11.61" height="9.83" fill="#20ffdf"/><rect x="184.10" y="342.22" width="11.61" height="9.83" fill="#ffbf00"/><rect x="195.66" y="342.22" width="11.61" height="9.83" fill="#ff4000"/><rect x="207.21" y="342.22" width="11.61" height="9.83" fill="#ff9f00"/><rect x="218.77" y="342.22" width="11.61" height="9.83" fill="#ffff00"/><rect x="230.33" y="342.22" width="11.61" height="9.83" fill="#9fff60"/><rect x="241.89" y="342.22" width="11.61" height="9.83" fill="#80ff80"/><rect x="253.44" y="342.22" width="11.61" height="9.83" fill="#dfff20"/><rect x="22.30" y="352.00" width="11.61" height="9.83" fill="#ffdf00"/><rect x="33.86" y="352.00" width="11.61" height="9.83" fill="#60ff9f"/><rect x="45.41" y="352.00" width="11.61" height="9.83" fill="#bfff40"/><rect x="56.97" y="352.00" width="11.61" height="9.83" fill="#ff8000"/><rect x="68.53" y="352.00" width="11.61" height="9.83" fill="#ff9f00"/><rect x="80.09" y="352.00" width="11.61" height="9.83" fill="#60ff9f"/><rect x="91.64" y="352.00" width="11.61" height="9.83" fill="#009fff"/><rect x="103.20" y="352.00" width="11.61" height="9.83" fill="#9fff60"/><rect x="114.76" y="352.00" width="11.61" height="9.83" fill="#ff6000"/><rect x="126.31" y="352.00" width="11.61" height="9.83" fill="#ffff00"/><rect x="137.87" y="352.00" width="11.61" height="9.83" fill="#40ffbf"/><rect x="149.43" y="352.00" width="11.61" height="9.83" fill="#20ffdf"/><rect x="160.99" y="352.00" width="11.61" height="9.83" fill="#00bfff"/><rect x="172.54" y="352.00" width="11.61" height="9.83" fill="#00dfff"/><rect x="184.10" y="352.00" width="11.61" height="9.83" fill="#dfff20"/><rect x="195.66" y="352.00" width="11.61" height="9.83" fill="#bfff40"/><rect x="207.21" y="352.00" width="11.61" height="9.83" fill="#60ff9f"/><rect x="218.77" y="352.00" width="11.61" height="9.83" fill="#80ff80"/><rect x="230.33" y="352.00" width="11.61" height="9.83" fill="#40ffbf"/><rect x="241.89" y="352.00" width="11.61" height="9.83" fill="#80ff80"/><rect x="253.44" y="352.00" width="11.61" height="9.83" fill="#dfff20"/><rect x="22.30" y="361.79" width="11.61" height="9.83" fill="#00dfff"/><rect x="33.86" y="361.79" width="11.61" height="9.83" fill="#009fff"/><rect x="45.41" y="361.79" width="11.61" height="9.83" fill="#00dfff"/><rect x="56.97" y="361.79" width="11.61" height="9.83" fill="#60ff9f"/><rect x="68.53" y="361.79" width="11.61" height="9.83" fill="#dfff20"/><rect x="80.09" y="361.79" width="11.61" height="9.83" fill="#60ff9f"/><rect x="91.64" y="361.79" width="11.61" height="9.83" fill="#00bfff"/><rect x="103.20" y="361.79" width="11.61" height="9.83" fill="#009fff"/><rect x="114.76" y="361.79" width="11.61" height="9.83" fill="#00ffff"/><rect x="126.31" y="361.79" width="11.61" height="9.83" fill="#80ff80"/><rect x="137.87" y="361.79" width="11.61" height="9.83" fill="#60ff9f"/><rect x="149.43" y="361.79" width="11.61" height="9.83" fill="#00dfff"/><rect x="160.99" y="361.79" width="11.61" height="9.83" fill="#009fff"/><rect x="172.54" y="361.79" width="11.61" height="9.83" fill="#9fff60"/><rect x="184.10" y="361.79" width="11.61" height="9.83" fill="#ffdf00"/><rect x="195.66" y="361.79" width="11.61" height="9.83" fill="#40ffbf"/><rect x="207.21" y="361.79" width="11.61" height="9.83" fill="#009fff"/><rect x="218.77" y="361.79" width="11.61" height="9.83" fill="#00dfff"/><rect x="230.33" y="361.79" width="11.61" height="9.83" fill="#00ffff"/><rect x="241.89" y="361.79" width="11.61" height="9.83" fill="#009fff"/><rect x="253.44" y="361.79" width="11.61" height="9.83" fill="#00bfff"/><rect x="22.30" y="371.57" width="11.61" height="9.83" fill="#009fff"/><rect x="33.86" y="371.57" width="11.61" height="9.83" fill="#00ffff"/><rect x="45.41" y="371.57" width="11.61" height="9.83" fill="#00dfff"/><rect x="56.97" y="371.57" width="11.61" height="9.83" fill="#0060ff"/><rect x="68.53" y="371.57" width="11.61" height="9.83" fill="#009fff"/><rect x="80.09" y="371.57" width="11.61" height="9.83" fill="#00dfff"/><rect x="91.64" y="371.57" width="11.61" height="9.83" fill="#20ffdf"/><rect x="103.20" y="371.57" width="11.61" height="9.83" fill="#60ff9f"/><rect x="114.76" y="371.57" width="11.61" height="9.83" fill="#00bfff"/><rect x="126.31" y="371.57" width="11.61" height="9.83" fill="#40ffbf"/><rect x="137.87" y="371.57" width="11.61" height="9.83" fill="#80ff80"/><rect x="149.43" y="371.57" width="11.61" height="9.83" fill="#009fff"/><rect x="160.99" y="371.57" width="11.61" height="9.83" fill="#00bfff"/><rect x="172.54" y="371.57" width="11.61" height="9.83" fill="#ffdf00"/><rect x="184.10" y="371.57" width="11.61" height="9.83" fill="#ff4000"/><rect x="195.66" y="371.57" width="11.61" height="9.83" fill="#ffdf00"/><rect x="207.21" y="371.57" width="11.61" height="9.83" fill="#ffff00"/><rect x="218.77" y="371.57" width="11.61" height="9.83" fill="#dfff20"/><rect x="230.33" y="371.57" width="11.61" height="9.83" fill="#80ff80"/><rect x="241.89" y="371.57" width="11.61" height="9.83" fill="#00dfff"/><rect x="253.44" y="371.57" width="11.61" height="9.83" fill="#0020ff"/><rect x="22.30" y="381.35" width="11.61" height="9.83" fill="#20ffdf"/><rect x="33.86" y="381.35" width="11.61" height="9.83" fill="#20ffdf"/><rect x="45.41" y="381.35" width="11.61" height="9.83" fill="#9fff60"/><rect x="56.97" y="381.35" width="11.61" height="9.83" fill="#20ffdf"/><rect x="68.53" y="381.35" width="11.61" height="9.83" fill="#009fff"/><rect x="80.09" y="381.35" width="11.61" height="9.83" fill="#00dfff"/><rect x="91.64" y="381.35" width="11.61" height="9.83" fill="#20ffdf"/><rect x="103.20" y="381.35" width="11.61" height="9.83" fill="#ffff00"/><rect x="114.76" y="381.35" width="11.61" height="9.83" fill="#60ff9f"/><rect x="126.31" y="381.35" width="11.61" height="9.83" fill="#00ffff"/><rect x="137.87" y="381.35" width="11.61" height="9.83" fill="#00dfff"/><rect x="149.43" y="381.35" width="11.61" height="9.83" fill="#0060ff"/><rect x="160.99" y="381.35" width="11.61" height="9.83" fill="#20ffdf"/><rect x="172.54" y="381.35" width="11.61" height="9.83" fill="#dfff20"/><rect x="184.10" y="381.35" width="11.61" height="9.83" fill="#dfff20"/><rect x="195.66" y="381.35" width="11.61" height="9.83" fill="#ffff00"/><rect x="207.21" y="381.35" width="11.61" height="9.83" fill="#ffbf00"/><rect x="218.77" y="381.35" width="11.61" height="9.83" fill="#bfff40"/><rect x="230.33" y="381.35" width="11.61" height="9.83" fill="#9fff60"/><rect x="241.89" y="381.35" width="11.61" height="9.83" fill="#9fff60"/><rect x="253.44" y="381.35" width="11.61" height="9.83" fill="#40ffbf"/><rect x="22.30" y="391.13" width="11.61" height="9.83" fill="#dfff20"/><rect x="33.86" y="391.13" width="11.61" height="9.83" fill="#20ffdf"/><rect x="45.41" y="391.13" width="11.61" height="9.83" fill="#dfff20"/><rect x="56.97" y="391.13" width="11.61" height="9.83" fill="#dfff20"/><rect x="68.53" y="391.13" width="11.61" height="9.83" fill="#9fff60"/><rect x="80.09" y="391.13" width="11.61" height="9.83" fill="#60ff9f"/><rect x="91.64" y="391.13" width="11.61" height="9.83" fill="#60ff9f"/><rect x="103.20" y="391.13" width="11.61" height="9.83" fill="#ffbf00"/><rect x="114.76" y="391.13" width="11.61" height="9.83" fill="#60ff9f"/><rect x="126.31" y="391.13" width="11.61" height="9.83" fill="#0080ff"/><rect x="137.87" y="391.13" width="11.61" height="9.83" fill="#009fff"/><rect x="149.43" y="391.13" width="11.61" height="9.83" fill="#009fff"/><rect x="160.99" y="391.13" width="11.61" height="9.83" fill="#00dfff"/><rect x="172.54" y="391.13" width="11.61" height="9.83" fill="#40ffbf"/><rect x="184.10" y="391.13" width="11.61" height="9.83" fill="#00dfff"/><rect x="195.66" y="391.13" width="11.61" height="9.83" fill="#009fff"/><rect x="207.21" y="391.13" width="11.61" height="9.83" fill="#00ffff"/><rect x="218.77" y="391.13" width="11.61" height="9.83" fill="#00dfff"/><rect x="230.33" y="391.13" width="11.61" height="9.83" fill="#00dfff"/><rect x="241.89" y="391.13" width="11.61" height="9.83" fill="#9fff60"/><rect x="253.44" y="391.13" width="11.61" height="9.83" fill="#dfff20"/><rect x="22.30" y="400.91" width="11.61" height="9.83" fill="#dfff20"/><rect x="33.86" y="400.91" width="11.61" height="9.83" fill="#00ffff"/><rect x="45.41" y="400.91" width="11.61" height="9.83" fill="#40ffbf"/><rect x="56.97" y="400.91" width="11.61" height="9.83" fill="#ffff00"/><rect x="68.53" y="400.91" width="11.61" height="9.83" fill="#ff9f00"/><rect x="80.09" y="400.91" width="11.61" height="9.83" fill="#ffdf00"/><rect x="91.64" y="400.91" width="11.61" height="9.83" fill="#dfff20"/><rect x="103.20" y="400.91" width="11.61" height="9.83" fill="#9fff60"/><rect x="114.76" y="400.91" width="11.61" height="9.83" fill="#00dfff"/><rect x="126.31" y="400.91" width="11.61" height="9.83" fill="#009fff"/><rect x="137.87" y="400.91" width="11.61" height="9.83" fill="#009fff"/><rect x="149.43" y="400.91" width="11.61" height="9.83" fill="#009fff"/><rect x="160.99" y="400.91" width="11.61" height="9.83" fill="#009fff"/><rect x="172.54" y="400.91" width="11.61" height="9.83" fill="#40ffbf"/><rect x="184.10" y="400.91" width="11.61" height="9.83" fill="#20ffdf"/><rect x="195.66" y="400.91" width="11.61" height="9.83" fill="#0080ff"/><rect x="207.21" y="400.91" width="11.61" height="9.83" fill="#00bfff"/><rect x="218.77" y="400.91" width="11.61" height="9.83" fill="#60ff9f"/><rect x="230.33" y="400.91" width="11.61" height="9.83" fill="#60ff9f"/><rect x="241.89" y="400.91" width="11.61" height="9.83" fill="#40ffbf"/><rect x="253.44" y="400.91" width="11.61" height="9.83" fill="#60ff9f"/><rect x="22.30" y="410.69" width="11.61" height="9.83" fill="#60ff9f"/><rect x="33.86" y="410.69" width="11.61" height="9.83" fill="#00dfff"/><rect x="45.41" y="410.69" width="11.61" height="9.83" fill="#00bfff"/><rect x="56.97" y="410.69" width="11.61" height="9.83" fill="#60ff9f"/><rect x="68.53" y="410.69" width="11.61" height="9.83" fill="#9fff60"/><rect x="80.09" y="410.69" width="11.61" height="9.83" fill="#9fff60"/><rect x="91.64" y="410.69" width="11.61" height="9.83" fill="#60ff9f"/><rect x="103.20" y="410.69" width="11.61" height="9.83" fill="#00ffff"/><rect x="114.76" y="410.69" width="11.61" height="9.83" fill="#00ffff"/><rect x="126.31" y="410.69" width="11.61" height="9.83" fill="#20ffdf"/><rect x="137.87" y="410.69" width="11.61" height="9.83" fill="#00dfff"/><rect x="149.43" y="410.69" width="11.61" height="9.83" fill="#009fff"/><rect x="160.99" y="410.69" width="11.61" height="9.83" fill="#009fff"/><rect x="172.54" y="410.69" width="11.61" height="9.83" fill="#60ff9f"/><rect x="184.10" y="410.69" width="11.61" height="9.83" fill="#9fff60"/><rect x="195.66" y="410.69" width="11.61" height="9.83" fill="#00dfff"/><rect x="207.21" y="410.69" width="11.61" height="9.83" fill="#009fff"/><rect x="218.77" y="410.69" width="11.61" height="9.83" fill="#60ff9f"/><rect x="230.33" y="410.69" width="11.61" height="9.83" fill="#ffbf00"/><rect x="241.89" y="410.69" width="11.61" height="9.83" fill="#ffff00"/><rect x="253.44" y="410.69" width="11.61" height="9.83" fill="#40ffbf"/><rect x="22.30" y="420.47" width="11.61" height="9.83" fill="#20ffdf"/><rect x="33.86" y="420.47" width="11.61" height="9.83" fill="#009fff"/><rect x="45.41" y="420.47" width="11.61" height="9.83" fill="#0000ff"/><rect x="56.97" y="420.47" width="11.61" height="9.83" fill="#0020ff"/><rect x="68.53" y="420.47" width="11.61" height="9.83" fill="#00bfff"/><rect x="80.09" y="420.47" width="11.61" height="9.83" fill="#20ffdf"/><rect x="91.64" y="420.47" width="11.61" height="9.83" fill="#20ffdf"/><rect x="103.20" y="420.47" width="11.61" height="9.83" fill="#20ffdf"/><rect x="114.76" y="420.47" width="11.61" height="9.83" fill="#20ffdf"/><rect x="126.31" y="420.47" width="11.61" height="9.83" fill="#80ff80"/><rect x="137.87" y="420.47" width="11.61" height="9.83" fill="#9fff60"/><rect x="149.43" y="420.47" width="11.61" height="9.83" fill="#40ffbf"/><rect x="160.99" y="420.47" width="11.61" height="9.83" fill="#009fff"/><rect x="172.54" y="420.47" width="11.61" height="9.83" fill="#00ffff"/><rect x="184.10" y="420.47" width="11.61" height="9.83" fill="#bfff40"/><rect x="195.66" y="420.47" width="11.61" height="9.83" fill="#00ffff"/><rect x="207.21" y="420.47" width="11.61" height="9.83" fill="#0040ff"/><rect x="218.77" y="420.47" width="11.61" height="9.83" fill="#00ffff"/><rect x="230.33" y="420.47" width="11.61" height="9.83" fill="#ffdf00"/><rect x="241.89" y="420.47" width="11.61" height="9.83" fill="#ff9f00"/><rect x="253.44" y="420.47" width="11.61" height="9.83" fill="#9fff60"/><rect x="22.30" y="430.25" width="11.61" height="9.83" fill="#00dfff"/><rect x="33.86" y="430.25" width="11.61" height="9.83" fill="#0060ff"/><rect x="45.41" y="430.25" width="11.61" height="9.83" fill="#0040ff"/><rect x="56.97" y="430.25" width="11.61" height="9.83" fill="#009fff"/><rect x="68.53" y="430.25" width="11.61" height="9.83" fill="#60ff9f"/><rect x="80.09" y="430.25" width="11.61" height="9.83" fill="#9fff60"/><rect x="91.64" y="430.25" width="11.61" height="9.83" fill="#20ffdf"/><rect x="103.20" y="430.25" width="11.61" height="9.83" fill="#0060ff"/><rect x="114.76" y="430.25" width="11.61" height="9.83" fill="#009fff"/><rect x="126.31" y="430.25" width="11.61" height="9.83" fill="#bfff40"/><rect x="137.87" y="430.25" width="11.61" height="9.83" fill="#80ff80"/><rect x="149.43" y="430.25" width="11.61" height="9.83" fill="#009fff"/><rect x="160.99" y="430.25" width="11.61" height="9.83" fill="#00dfff"/><rect x="172.54" y="430.25" width="11.61" height="9.83" fill="#bfff40"/><rect x="184.10" y="430.25" width="11.61" height="9.83" fill="#ffff00"/><rect x="195.66" y="430.25" width="11.61" height="9.83" fill="#9fff60"/><rect x="207.21" y="430.25" width="11.61" height="9.83" fill="#40ffbf"/><rect x="218.77" y="430.25" width="11.61" height="9.83" fill="#60ff9f"/><rect x="230.33" y="430.25" width="11.61" height="9.83" fill="#9fff60"/><rect x="241.89" y="430.25" width="11.61" height="9.83" fill="#dfff20"/><rect x="253.44" y="430.25" width="11.61" height="9.83" fill="#80ff80"/><rect x="22.30" y="440.03" width="11.61" height="9.83" fill="#009fff"/><rect x="33.86" y="440.03" width="11.61" height="9.83" fill="#009fff"/><rect x="45.41" y="440.03" width="11.61" height="9.83" fill="#20ffdf"/><rect x="56.97" y="440.03" width="11.61" height="9.83" fill="#ffff00"/><rect x="68.53" y="440.03" width="11.61" height="9.83" fill="#dfff20"/><rect x="80.09" y="440.03" width="11.61" height="9.83" fill="#00dfff"/><rect x="91.64" y="440.03" width="11.61" height="9.83" fill="#009fff"/><rect x="103.20" y="440.03" width="11.61" height="9.83" fill="#0000ff"/><rect x="114.76" y="440.03" width="11.61" height="9.83" fill="#0060ff"/><rect x="126.31" y="440.03" width="11.61" height="9.83" fill="#40ffbf"/><rect x="137.87" y="440.03" width="11.61" height="9.83" fill="#00bfff"/><rect x="149.43" y="440.03" width="11.61" height="9.83" fill="#009fff"/><rect x="160.99" y="440.03" width="11.61" height="9.83" fill="#60ff9f"/><rect x="172.54" y="440.03" width="11.61" height="9.83" fill="#40ffbf"/><rect x="184.10" y="440.03" width="11.61" height="9.83" fill="#20ffdf"/><rect x="195.66" y="440.03" width="11.61" height="9.83" fill="#dfff20"/><rect x="207.21" y="440.03" width="11.61" height="9.83" fill="#ffbf00"/><rect x="218.77" y="440.03" width="11.61" height="9.83" fill="#40ffbf"/><rect x="230.33" y="440.03" width="11.61" height="9.83" fill="#009fff"/><rect x="241.89" y="440.03" width="11.61" height="9.83" fill="#009fff"/><rect x="253.44" y="440.03" width="11.61" height="9.83" fill="#00ffff"/><rect x="22.30" y="449.81" width="11.61" height="9.83" fill="#009fff"/><rect x="33.86" y="449.81" width="11.61" height="9.83" fill="#00ffff"/><rect x="45.41" y="449.81" width="11.61" height="9.83" fill="#60ff9f"/><rect x="56.97" y="449.81" width="11.61" height="9.83" fill="#9fff60"/><rect x="68.53" y="449.81" width="11.61" height="9.83" fill="#20ffdf"/><rect x="80.09" y="449.81" width="11.61" height="9.83" fill="#0060ff"/><rect x="91.64" y="449.81" width="11.61" height="9.83" fill="#00bfff"/><rect x="103.20" y="449.81" width="11.61" height="9.83" fill="#009fff"/><rect x="114.76" y="449.81" width="11.61" height="9.83" fill="#0020ff"/><rect x="126.31" y="449.81" width="11.61" height="9.83" fill="#0040ff"/><rect x="137.87" y="449.81" width="11.61" height="9.83" fill="#0080ff"/><rect x="149.43" y="449.81" width="11.61" height="9.83" fill="#00dfff"/><rect x="160.99" y="449.81" width="11.61" height="9.83" fill="#009fff"/><rect x="172.54" y="449.81" width="11.61" height="9.83" fill="#0040ff"/><rect x="184.10" y="449.81" width="11.61" height="9.83" fill="#0060ff"/><rect x="195.66" y="449.81" width="11.61" height="9.83" fill="#40ffbf"/><rect x="207.21" y="449.81" width="11.61" height="9.83" fill="#9fff60"/><rect x="218.77" y="449.81" width="11.61" height="9.83" fill="#009fff"/><rect x="230.33" y="449.81" width="11.61" height="9.83" fill="#0020ff"/><rect x="241.89" y="449.81" width="11.61" height="9.83" fill="#0080ff"/><rect x="253.44" y="449.81" width="11.61" height="9.83" fill="#00ffff"/><rect x="22.30" y="459.60" width="11.61" height="9.83" fill="#009fff"/><rect x="33.86" y="459.60" width="11.61" height="9.83" fill="#009fff"/><rect x="45.41" y="459.60" width="11.61" height="9.83" fill="#bfff40"/><rect x="56.97" y="459.60" width="11.61" height="9.83" fill="#9fff60"/><rect x="68.53" y="459.60" width="11.61" height="9.83" fill="#0060ff"/><rect x="80.09" y="459.60" width="11.61" height="9.83" fill="#0040ff"/><rect x="91.64" y="459.60" width="11.61" height="9.83" fill="#20ffdf"/><rect x="103.20" y="459.60" width="11.61" height="9.83" fill="#00dfff"/><rect x="114.76" y="459.60" width="11.61" height="9.83" fill="#0060ff"/><rect x="126.31" y="459.60" width="11.61" height="9.83" fill="#0060ff"/><rect x="137.87" y="459.60" width="11.61" height="9.83" fill="#0060ff"/><rect x="149.43" y="459.60" width="11.61" height="9.83" fill="#0080ff"/><rect x="160.99" y="459.60" width="11.61" height="9.83" fill="#009fff"/><rect x="172.54" y="459.60" width="11.61" height="9.83" fill="#00dfff"/><rect x="184.10" y="459.60" width="11.61" height="9.83" fill="#0060ff"/><rect x="195.66" y="459.60" width="11.61" height="9.83" fill="#0060ff"/><rect x="207.21" y="459.60" width="11.61" height="9.83" fill="#00bfff"/><rect x="218.77" y="459.60" width="11.61" height="9.83" fill="#009fff"/><rect x="230.33" y="459.60" width="11.61" height="9.83" fill="#20ffdf"/><rect x="241.89" y="459.60" width="11.61" height="9.83" fill="#60ff9f"/><rect x="253.44" y="459.60" width="11.61" height="9.83" fill="#40ffbf"/><rect x="22.30" y="469.38" width="11.61" height="9.83" fill="#009fff"/><rect x="33.86" y="469.38" width="11.61" height="9.83" fill="#0000ff"/><rect x="45.41" y="469.38" width="11.61" height="9.83" fill="#00dfff"/><rect x="56.97" y="469.38" width="11.61" height="9.83" fill="#60ff9f"/><rect x="68.53" y="469.38" width="11.61" height="9.83" fill="#0060ff"/><rect x="80.09" y="469.38" width="11.61" height="9.83" fill="#0020ff"/><rect x="91.64" y="469.38" width="11.61" height="9.83" fill="#00dfff"/><rect x="103.20" y="469.38" width="11.61" height="9.83" fill="#00bfff"/><rect x="114.76" y="469.38" width="11.61" height="9.83" fill="#009fff"/><rect x="126.31" y="469.38" width="11.61" height="9.83" fill="#009fff"/><rect x="137.87" y="469.38" width="11.61" height="9.83" fill="#0020ff"/><rect x="149.43" y="469.38" width="11.61" height="9.83" fill="#009fff"/><rect x="160.99" y="469.38" width="11.61" height="9.83" fill="#9fff60"/><rect x="172.54" y="469.38" width="11.61" height="9.83" fill="#dfff20"/><rect x="184.10" y="469.38" width="11.61" height="9.83" fill="#60ff9f"/><rect x="195.66" y="469.38" width="11.61" height="9.83" fill="#0080ff"/><rect x="207.21" y="469.38" width="11.61" height="9.83" fill="#0020ff"/><rect x="218.77" y="469.38" width="11.61" height="9.83" fill="#00dfff"/><rect x="230.33" y="469.38" width="11.61" height="9.83" fill="#dfff20"/><rect x="241.89" y="469.38" width="11.61" height="9.83" fill="#ffff00"/><rect x="253.44" y="469.38" width="11.61" height="9.83" fill="#80ff80"/><rect x="22.30" y="479.16" width="11.61" height="9.83" fill="#20ffdf"/><rect x="33.86" y="479.16" width="11.61" height="9.83" fill="#0040ff"/><rect x="45.41" y="479.16" width="11.61" height="9.83" fill="#0060ff"/><rect x="56.97" y="479.16" width="11.61" height="9.83" fill="#00ffff"/><rect x="68.53" y="479.16" width="11.61" height="9.83" fill="#00dfff"/><rect x="80.09" y="479.16" width="11.61" height="9.83" fill="#0060ff"/><rect x="91.64" y="479.16" width="11.61" height="9.83" fill="#00dfff"/><rect x="103.20" y="479.16" width="11.61" height="9.83" fill="#00ffff"/><rect x="114.76" y="479.16" width="11.61" height="9.83" fill="#00bfff"/><rect x="126.31" y="479.16" width="11.61" height="9.83" fill="#0060ff"/><rect x="137.87" y="479.16" width="11.61" height="9.83" fill="#0020ff"/><rect x="149.43" y="479.16" width="11.61" height="9.83" fill="#0080ff"/><rect x="160.99" y="479.16" width="11.61" height="9.83" fill="#00ffff"/><rect x="172.54" y="479.16" width="11.61" height="9.83" fill="#9fff60"/><rect x="184.10" y="479.16" width="11.61" height="9.83" fill="#dfff20"/><rect x="195.66" y="479.16" width="11.61" height="9.83" fill="#20ffdf"/><rect x="207.21" y="479.16" width="11.61" height="9.83" fill="#0040ff"/><rect x="218.77" y="479.16" width="11.61" height="9.83" fill="#00bfff"/><rect x="230.33" y="479.16" width="11.61" height="9.83" fill="#60ff9f"/><rect x="241.89" y="479.16" width="11.61" height="9.83" fill="#40ffbf"/><rect x="253.44" y="479.16" width="11.61" height="9.83" fill="#20ffdf"/><rect x="22.30" y="488.94" width="11.61" height="9.83" fill="#ffff00"/><rect x="33.86" y="488.94" width="11.61" height="9.83" fill="#009fff"/><rect x="45.41" y="488.94" width="11.61" height="9.83" fill="#009fff"/><rect x="56.97" y="488.94" width="11.61" height="9.83" fill="#60ff9f"/><rect x="68.53" y="488.94" width="11.61" height="9.83" fill="#20ffdf"/><rect x="80.09" y="488.94" width="11.61" height="9.83" fill="#0060ff"/><rect x="91.64" y="488.94" width="11.61" height="9.83" fill="#00ffff"/><rect x="103.20" y="488.94" width="11.61" height="9.83" fill="#dfff20"/><rect x="114.76" y="488.94" width="11.61" height="9.83" fill="#20ffdf"/><rect x="126.31" y="488.94" width="11.61" height="9.83" fill="#009fff"/><rect x="137.87" y="488.94" width="11.61" height="9.83" fill="#009fff"/><rect x="149.43" y="488.94" width="11.61" height="9.83" fill="#00bfff"/><rect x="160.99" y="488.94" width="11.61" height="9.83" fill="#009fff"/><rect x="172.54" y="488.94" width="11.61" height="9.83" fill="#00dfff"/><rect x="184.10" y="488.94" width="11.61" height="9.83" fill="#20ffdf"/><rect x="195.66" y="488.94" width="11.61" height="9.83" fill="#20ffdf"/><rect x="207.21" y="488.94" width="11.61" height="9.83" fill="#009fff"/><rect x="218.77" y="488.94" width="11.61" height="9.83" fill="#009fff"/><rect x="230.33" y="488.94" width="11.61" height="9.83" fill="#0080ff"/><rect x="241.89" y="488.94" width="11.61" height="9.83" fill="#0060ff"/><rect x="253.44" y="488.94" width="11.61" height="9.83" fill="#00ffff"/><rect x="22.30" y="498.72" width="11.61" height="9.83" fill="#dfff20"/><rect x="33.86" y="498.72" width="11.61" height="9.83" fill="#0020ff"/><rect x="45.41" y="498.72" width="11.61" height="9.83" fill="#0000df"/><rect x="56.97" y="498.72" width="11.61" height="9.83" fill="#20ffdf"/><rect x="68.53" y="498.72" width="11.61" height="9.83" fill="#20ffdf"/><rect x="80.09" y="498.72" width="11.61" height="9.83" fill="#0020ff"/><rect x="91.64" y="498.72" width="11.61" height="9.83" fill="#009fff"/><rect x="103.20" y="498.72" width="11.61" height="9.83" fill="#60ff9f"/><rect x="114.76" y="498.72" width="11.61" height="9.83" fill="#00ffff"/><rect x="126.31" y="498.72" width="11.61" height="9.83" fill="#0040ff"/><rect x="137.87" y="498.72" width="11.61" height="9.83" fill="#0060ff"/><rect x="149.43" y="498.72" width="11.61" height="9.83" fill="#0060ff"/><rect x="160.99" y="498.72" width="11.61" height="9.83" fill="#009fff"/><rect x="172.54" y="498.72" width="11.61" height="9.83" fill="#00ffff"/><rect x="184.10" y="498.72" width="11.61" height="9.83" fill="#20ffdf"/><rect x="195.66" y="498.72" width="11.61" height="9.83" fill="#20ffdf"/><rect x="207.21" y="498.72" width="11.61" height="9.83" fill="#0080ff"/><rect x="218.77" y="498.72" width="11.61" height="9.83" fill="#0060ff"/><rect x="230.33" y="498.72" width="11.61" height="9.83" fill="#0060ff"/><rect x="241.89" y="498.72" width="11.61" height="9.83" fill="#0060ff"/><rect x="253.44" y="498.72" width="11.61" height="9.83" fill="#20ffdf"/><path d="M22.30 303.10V508.50M33.86 303.10V508.50M45.41 303.10V508.50M56.97 303.10V508.50M68.53 303.10V508.50M80.09 303.10V508.50M91.64 303.10V508.50M103.20 303.10V508.50M114.76 303.10V508.50M126.31 303.10V508.50M137.87 303.10V508.50M149.43 303.10V508.50M160.99 303.10V508.50M172.54 303.10V508.50M184.10 303.10V508.50M195.66 303.10V508.50M207.21 303.10V508.50M218.77 303.10V508.50M230.33 303.10V508.50M241.89 303.10V508.50M253.44 303.10V508.50M265.00 303.10V508.50M22.30 303.10H265.00M22.30 312.88H265.00M22.30 322.66H265.00M22.30 332.44H265.00M22.30 342.22H265.00M22.30 352.00H265.00M22.30 361.79H265.00M22.30 371.57H265.00M22.30 381.35H265.00M22.30 391.13H265.00M22.30 400.91H265.00M22.30 410.69H265.00M22.30 420.47H265.00M22.30 430.25H265.00M22.30 440.03H265.00M22.30 449.81H265.00M22.30 459.60H265.00M22.30 469.38H265.00M22.30 479.16H265.00M22.30 488.94H265.00M22.30 498.72H265.00M22.30 508.50H265.00" stroke="#787878" stroke-width="0.45" fill="none"/><text class="tk" text-anchor="end" transform="translate(20.70 503.12) scale(0.810 1)">2</text><text class="tk" text-anchor="middle" transform="translate(33.56 518.80) scale(0.810 1)">2</text><text class="tk" text-anchor="end" transform="translate(20.70 483.56) scale(0.810 1)">4</text><text class="tk" text-anchor="middle" transform="translate(56.67 518.80) scale(0.810 1)">4</text><text class="tk" text-anchor="end" transform="translate(20.70 464.00) scale(0.810 1)">6</text><text class="tk" text-anchor="middle" transform="translate(79.79 518.80) scale(0.810 1)">6</text><text class="tk" text-anchor="end" transform="translate(20.70 444.43) scale(0.810 1)">8</text><text class="tk" text-anchor="middle" transform="translate(102.90 518.80) scale(0.810 1)">8</text><text class="tk" text-anchor="end" transform="translate(20.40 424.87) scale(0.810 1)">10</text><text class="tk" text-anchor="middle" transform="translate(126.01 518.80) scale(0.810 1)">10</text><text class="tk" text-anchor="end" transform="translate(20.40 405.31) scale(0.810 1)">12</text><text class="tk" text-anchor="middle" transform="translate(149.13 518.80) scale(0.810 1)">12</text><text class="tk" text-anchor="end" transform="translate(20.40 385.75) scale(0.810 1)">14</text><text class="tk" text-anchor="middle" transform="translate(172.24 518.80) scale(0.810 1)">14</text><text class="tk" text-anchor="end" transform="translate(20.40 366.19) scale(0.810 1)">16</text><text class="tk" text-anchor="middle" transform="translate(195.36 518.80) scale(0.810 1)">16</text><text class="tk" text-anchor="end" transform="translate(20.40 346.62) scale(0.810 1)">18</text><text class="tk" text-anchor="middle" transform="translate(218.47 518.80) scale(0.810 1)">18</text><text class="tk" text-anchor="end" transform="translate(20.40 327.06) scale(0.810 1)">20</text><text class="tk" text-anchor="middle" transform="translate(241.59 518.80) scale(0.810 1)">20</text><text class="tk" text-anchor="end" transform="translate(20.40 307.50) scale(0.810 1)">22</text><text class="tk" text-anchor="middle" transform="translate(264.70 518.80) scale(0.810 1)">22</text>
<rect x="302.90" y="303.10" width="11.64" height="9.83" fill="#ffdf00"/><rect x="314.49" y="303.10" width="11.64" height="9.83" fill="#40ffbf"/><rect x="326.07" y="303.10" width="11.64" height="9.83" fill="#0080ff"/><rect x="337.66" y="303.10" width="11.64" height="9.83" fill="#60ff9f"/><rect x="349.24" y="303.10" width="11.64" height="9.83" fill="#dfff20"/><rect x="360.83" y="303.10" width="11.64" height="9.83" fill="#00bfff"/><rect x="372.41" y="303.10" width="11.64" height="9.83" fill="#009fff"/><rect x="384.00" y="303.10" width="11.64" height="9.83" fill="#00dfff"/><rect x="395.59" y="303.10" width="11.64" height="9.83" fill="#009fff"/><rect x="407.17" y="303.10" width="11.64" height="9.83" fill="#0040ff"/><rect x="418.76" y="303.10" width="11.64" height="9.83" fill="#00bfff"/><rect x="430.34" y="303.10" width="11.64" height="9.83" fill="#00dfff"/><rect x="441.93" y="303.10" width="11.64" height="9.83" fill="#20ffdf"/><rect x="453.51" y="303.10" width="11.64" height="9.83" fill="#bfff40"/><rect x="465.10" y="303.10" width="11.64" height="9.83" fill="#bfff40"/><rect x="476.69" y="303.10" width="11.64" height="9.83" fill="#ff6000"/><rect x="488.27" y="303.10" width="11.64" height="9.83" fill="#ff9f00"/><rect x="499.86" y="303.10" width="11.64" height="9.83" fill="#40ffbf"/><rect x="511.44" y="303.10" width="11.64" height="9.83" fill="#009fff"/><rect x="523.03" y="303.10" width="11.64" height="9.83" fill="#20ffdf"/><rect x="534.61" y="303.10" width="11.64" height="9.83" fill="#ffbf00"/><rect x="302.90" y="312.88" width="11.64" height="9.83" fill="#ff4000"/><rect x="314.49" y="312.88" width="11.64" height="9.83" fill="#ffdf00"/><rect x="326.07" y="312.88" width="11.64" height="9.83" fill="#00ffff"/><rect x="337.66" y="312.88" width="11.64" height="9.83" fill="#40ffbf"/><rect x="349.24" y="312.88" width="11.64" height="9.83" fill="#60ff9f"/><rect x="360.83" y="312.88" width="11.64" height="9.83" fill="#60ff9f"/><rect x="372.41" y="312.88" width="11.64" height="9.83" fill="#dfff20"/><rect x="384.00" y="312.88" width="11.64" height="9.83" fill="#60ff9f"/><rect x="395.59" y="312.88" width="11.64" height="9.83" fill="#0080ff"/><rect x="407.17" y="312.88" width="11.64" height="9.83" fill="#00dfff"/><rect x="418.76" y="312.88" width="11.64" height="9.83" fill="#9fff60"/><rect x="430.34" y="312.88" width="11.64" height="9.83" fill="#60ff9f"/><rect x="441.93" y="312.88" width="11.64" height="9.83" fill="#9fff60"/><rect x="453.51" y="312.88" width="11.64" height="9.83" fill="#ff9f00"/><rect x="465.10" y="312.88" width="11.64" height="9.83" fill="#ffdf00"/><rect x="476.69" y="312.88" width="11.64" height="9.83" fill="#ff8000"/><rect x="488.27" y="312.88" width="11.64" height="9.83" fill="#ff2000"/><rect x="499.86" y="312.88" width="11.64" height="9.83" fill="#ffff00"/><rect x="511.44" y="312.88" width="11.64" height="9.83" fill="#20ffdf"/><rect x="523.03" y="312.88" width="11.64" height="9.83" fill="#40ffbf"/><rect x="534.61" y="312.88" width="11.64" height="9.83" fill="#ff9f00"/><rect x="302.90" y="322.66" width="11.64" height="9.83" fill="#ffff00"/><rect x="314.49" y="322.66" width="11.64" height="9.83" fill="#80ff80"/><rect x="326.07" y="322.66" width="11.64" height="9.83" fill="#dfff20"/><rect x="337.66" y="322.66" width="11.64" height="9.83" fill="#ffdf00"/><rect x="349.24" y="322.66" width="11.64" height="9.83" fill="#ffdf00"/><rect x="360.83" y="322.66" width="11.64" height="9.83" fill="#ff8000"/><rect x="372.41" y="322.66" width="11.64" height="9.83" fill="#ff6000"/><rect x="384.00" y="322.66" width="11.64" height="9.83" fill="#80ff80"/><rect x="395.59" y="322.66" width="11.64" height="9.83" fill="#0080ff"/><rect x="407.17" y="322.66" width="11.64" height="9.83" fill="#80ff80"/><rect x="418.76" y="322.66" width="11.64" height="9.83" fill="#ffdf00"/><rect x="430.34" y="322.66" width="11.64" height="9.83" fill="#dfff20"/><rect x="441.93" y="322.66" width="11.64" height="9.83" fill="#40ffbf"/><rect x="453.51" y="322.66" width="11.64" height="9.83" fill="#20ffdf"/><rect x="465.10" y="322.66" width="11.64" height="9.83" fill="#00ffff"/><rect x="476.69" y="322.66" width="11.64" height="9.83" fill="#20ffdf"/><rect x="488.27" y="322.66" width="11.64" height="9.83" fill="#dfff20"/><rect x="499.86" y="322.66" width="11.64" height="9.83" fill="#60ff9f"/><rect x="511.44" y="322.66" width="11.64" height="9.83" fill="#00bfff"/><rect x="523.03" y="322.66" width="11.64" height="9.83" fill="#00bfff"/><rect x="534.61" y="322.66" width="11.64" height="9.83" fill="#60ff9f"/><rect x="302.90" y="332.44" width="11.64" height="9.83" fill="#9fff60"/><rect x="314.49" y="332.44" width="11.64" height="9.83" fill="#60ff9f"/><rect x="326.07" y="332.44" width="11.64" height="9.83" fill="#ff9f00"/><rect x="337.66" y="332.44" width="11.64" height="9.83" fill="#ff2000"/><rect x="349.24" y="332.44" width="11.64" height="9.83" fill="#ffbf00"/><rect x="360.83" y="332.44" width="11.64" height="9.83" fill="#ffff00"/><rect x="372.41" y="332.44" width="11.64" height="9.83" fill="#ff6000"/><rect x="384.00" y="332.44" width="11.64" height="9.83" fill="#ff9f00"/><rect x="395.59" y="332.44" width="11.64" height="9.83" fill="#00ffff"/><rect x="407.17" y="332.44" width="11.64" height="9.83" fill="#00bfff"/><rect x="418.76" y="332.44" width="11.64" height="9.83" fill="#bfff40"/><rect x="430.34" y="332.44" width="11.64" height="9.83" fill="#ff4000"/><rect x="441.93" y="332.44" width="11.64" height="9.83" fill="#ffdf00"/><rect x="453.51" y="332.44" width="11.64" height="9.83" fill="#20ffdf"/><rect x="465.10" y="332.44" width="11.64" height="9.83" fill="#40ffbf"/><rect x="476.69" y="332.44" width="11.64" height="9.83" fill="#80ff80"/><rect x="488.27" y="332.44" width="11.64" height="9.83" fill="#80ff80"/><rect x="499.86" y="332.44" width="11.64" height="9.83" fill="#20ffdf"/><rect x="511.44" y="332.44" width="11.64" height="9.83" fill="#00dfff"/><rect x="523.03" y="332.44" width="11.64" height="9.83" fill="#00ffff"/><rect x="534.61" y="332.44" width="11.64" height="9.83" fill="#40ffbf"/><rect x="302.90" y="342.22" width="11.64" height="9.83" fill="#ffbf00"/><rect x="314.49" y="342.22" width="11.64" height="9.83" fill="#dfff20"/><rect x="326.07" y="342.22" width="11.64" height="9.83" fill="#ff9f00"/><rect x="337.66" y="342.22" width="11.64" height="9.83" fill="#ff8000"/><rect x="349.24" y="342.22" width="11.64" height="9.83" fill="#dfff20"/><rect x="360.83" y="342.22" width="11.64" height="9.83" fill="#40ffbf"/><rect x="372.41" y="342.22" width="11.64" height="9.83" fill="#60ff9f"/><rect x="384.00" y="342.22" width="11.64" height="9.83" fill="#ff2000"/><rect x="395.59" y="342.22" width="11.64" height="9.83" fill="#ff9f00"/><rect x="407.17" y="342.22" width="11.64" height="9.83" fill="#20ffdf"/><rect x="418.76" y="342.22" width="11.64" height="9.83" fill="#60ff9f"/><rect x="430.34" y="342.22" width="11.64" height="9.83" fill="#ff9f00"/><rect x="441.93" y="342.22" width="11.64" height="9.83" fill="#dfff20"/><rect x="453.51" y="342.22" width="11.64" height="9.83" fill="#20ffdf"/><rect x="465.10" y="342.22" width="11.64" height="9.83" fill="#ffbf00"/><rect x="476.69" y="342.22" width="11.64" height="9.83" fill="#ff4000"/><rect x="488.27" y="342.22" width="11.64" height="9.83" fill="#ff9f00"/><rect x="499.86" y="342.22" width="11.64" height="9.83" fill="#ffff00"/><rect x="511.44" y="342.22" width="11.64" height="9.83" fill="#9fff60"/><rect x="523.03" y="342.22" width="11.64" height="9.83" fill="#9fff60"/><rect x="534.61" y="342.22" width="11.64" height="9.83" fill="#dfff20"/><rect x="302.90" y="352.00" width="11.64" height="9.83" fill="#ffff00"/><rect x="314.49" y="352.00" width="11.64" height="9.83" fill="#60ff9f"/><rect x="326.07" y="352.00" width="11.64" height="9.83" fill="#bfff40"/><rect x="337.66" y="352.00" width="11.64" height="9.83" fill="#ff8000"/><rect x="349.24" y="352.00" width="11.64" height="9.83" fill="#ff9f00"/><rect x="360.83" y="352.00" width="11.64" height="9.83" fill="#40ffbf"/><rect x="372.41" y="352.00" width="11.64" height="9.83" fill="#0080ff"/><rect x="384.00" y="352.00" width="11.64" height="9.83" fill="#9fff60"/><rect x="395.59" y="352.00" width="11.64" height="9.83" fill="#ff6000"/><rect x="407.17" y="352.00" width="11.64" height="9.83" fill="#ffff00"/><rect x="418.76" y="352.00" width="11.64" height="9.83" fill="#40ffbf"/><rect x="430.34" y="352.00" width="11.64" height="9.83" fill="#20ffdf"/><rect x="441.93" y="352.00" width="11.64" height="9.83" fill="#00bfff"/><rect x="453.51" y="352.00" width="11.64" height="9.83" fill="#00dfff"/><rect x="465.10" y="352.00" width="11.64" height="9.83" fill="#dfff20"/><rect x="476.69" y="352.00" width="11.64" height="9.83" fill="#bfff40"/><rect x="488.27" y="352.00" width="11.64" height="9.83" fill="#60ff9f"/><rect x="499.86" y="352.00" width="11.64" height="9.83" fill="#80ff80"/><rect x="511.44" y="352.00" width="11.64" height="9.83" fill="#60ff9f"/><rect x="523.03" y="352.00" width="11.64" height="9.83" fill="#80ff80"/><rect x="534.61" y="352.00" width="11.64" height="9.83" fill="#dfff20"/><rect x="302.90" y="361.79" width="11.64" height="9.83" fill="#00dfff"/><rect x="314.49" y="361.79" width="11.64" height="9.83" fill="#009fff"/><rect x="326.07" y="361.79" width="11.64" height="9.83" fill="#00dfff"/><rect x="337.66" y="361.79" width="11.64" height="9.83" fill="#60ff9f"/><rect x="349.24" y="361.79" width="11.64" height="9.83" fill="#bfff40"/><rect x="360.83" y="361.79" width="11.64" height="9.83" fill="#40ffbf"/><rect x="372.41" y="361.79" width="11.64" height="9.83" fill="#009fff"/><rect x="384.00" y="361.79" width="11.64" height="9.83" fill="#009fff"/><rect x="395.59" y="361.79" width="11.64" height="9.83" fill="#00ffff"/><rect x="407.17" y="361.79" width="11.64" height="9.83" fill="#80ff80"/><rect x="418.76" y="361.79" width="11.64" height="9.83" fill="#60ff9f"/><rect x="430.34" y="361.79" width="11.64" height="9.83" fill="#00dfff"/><rect x="441.93" y="361.79" width="11.64" height="9.83" fill="#009fff"/><rect x="453.51" y="361.79" width="11.64" height="9.83" fill="#bfff40"/><rect x="465.10" y="361.79" width="11.64" height="9.83" fill="#ffdf00"/><rect x="476.69" y="361.79" width="11.64" height="9.83" fill="#40ffbf"/><rect x="488.27" y="361.79" width="11.64" height="9.83" fill="#009fff"/><rect x="499.86" y="361.79" width="11.64" height="9.83" fill="#00dfff"/><rect x="511.44" y="361.79" width="11.64" height="9.83" fill="#00ffff"/><rect x="523.03" y="361.79" width="11.64" height="9.83" fill="#009fff"/><rect x="534.61" y="361.79" width="11.64" height="9.83" fill="#00bfff"/><rect x="302.90" y="371.57" width="11.64" height="9.83" fill="#0080ff"/><rect x="314.49" y="371.57" width="11.64" height="9.83" fill="#00ffff"/><rect x="326.07" y="371.57" width="11.64" height="9.83" fill="#00dfff"/><rect x="337.66" y="371.57" width="11.64" height="9.83" fill="#0060ff"/><rect x="349.24" y="371.57" width="11.64" height="9.83" fill="#0080ff"/><rect x="360.83" y="371.57" width="11.64" height="9.83" fill="#00dfff"/><rect x="372.41" y="371.57" width="11.64" height="9.83" fill="#20ffdf"/><rect x="384.00" y="371.57" width="11.64" height="9.83" fill="#60ff9f"/><rect x="395.59" y="371.57" width="11.64" height="9.83" fill="#00bfff"/><rect x="407.17" y="371.57" width="11.64" height="9.83" fill="#40ffbf"/><rect x="418.76" y="371.57" width="11.64" height="9.83" fill="#60ff9f"/><rect x="430.34" y="371.57" width="11.64" height="9.83" fill="#009fff"/><rect x="441.93" y="371.57" width="11.64" height="9.83" fill="#00bfff"/><rect x="453.51" y="371.57" width="11.64" height="9.83" fill="#ffdf00"/><rect x="465.10" y="371.57" width="11.64" height="9.83" fill="#ff4000"/><rect x="476.69" y="371.57" width="11.64" height="9.83" fill="#ffdf00"/><rect x="488.27" y="371.57" width="11.64" height="9.83" fill="#ffff00"/><rect x="499.86" y="371.57" width="11.64" height="9.83" fill="#dfff20"/><rect x="511.44" y="371.57" width="11.64" height="9.83" fill="#80ff80"/><rect x="523.03" y="371.57" width="11.64" height="9.83" fill="#00dfff"/><rect x="534.61" y="371.57" width="11.64" height="9.83" fill="#0020ff"/><rect x="302.90" y="381.35" width="11.64" height="9.83" fill="#20ffdf"/><rect x="314.49" y="381.35" width="11.64" height="9.83" fill="#20ffdf"/><rect x="326.07" y="381.35" width="11.64" height="9.83" fill="#9fff60"/><rect x="337.66" y="381.35" width="11.64" height="9.83" fill="#20ffdf"/><rect x="349.24" y="381.35" width="11.64" height="9.83" fill="#00bfff"/><rect x="360.83" y="381.35" width="11.64" height="9.83" fill="#00dfff"/><rect x="372.41" y="381.35" width="11.64" height="9.83" fill="#20ffdf"/><rect x="384.00" y="381.35" width="11.64" height="9.83" fill="#ffff00"/><rect x="395.59" y="381.35" width="11.64" height="9.83" fill="#60ff9f"/><rect x="407.17" y="381.35" width="11.64" height="9.83" fill="#00ffff"/><rect x="418.76" y="381.35" width="11.64" height="9.83" fill="#00dfff"/><rect x="430.34" y="381.35" width="11.64" height="9.83" fill="#0060ff"/><rect x="441.93" y="381.35" width="11.64" height="9.83" fill="#20ffdf"/><rect x="453.51" y="381.35" width="11.64" height="9.83" fill="#dfff20"/><rect x="465.10" y="381.35" width="11.64" height="9.83" fill="#dfff20"/><rect x="476.69" y="381.35" width="11.64" height="9.83" fill="#ffff00"/><rect x="488.27" y="381.35" width="11.64" height="9.83" fill="#ffbf00"/><rect x="499.86" y="381.35" width="11.64" height="9.83" fill="#bfff40"/><rect x="511.44" y="381.35" width="11.64" height="9.83" fill="#9fff60"/><rect x="523.03" y="381.35" width="11.64" height="9.83" fill="#9fff60"/><rect x="534.61" y="381.35" width="11.64" height="9.83" fill="#40ffbf"/><rect x="302.90" y="391.13" width="11.64" height="9.83" fill="#dfff20"/><rect x="314.49" y="391.13" width="11.64" height="9.83" fill="#20ffdf"/><rect x="326.07" y="391.13" width="11.64" height="9.83" fill="#dfff20"/><rect x="337.66" y="391.13" width="11.64" height="9.83" fill="#dfff20"/><rect x="349.24" y="391.13" width="11.64" height="9.83" fill="#9fff60"/><rect x="360.83" y="391.13" width="11.64" height="9.83" fill="#60ff9f"/><rect x="372.41" y="391.13" width="11.64" height="9.83" fill="#60ff9f"/><rect x="384.00" y="391.13" width="11.64" height="9.83" fill="#ffbf00"/><rect x="395.59" y="391.13" width="11.64" height="9.83" fill="#60ff9f"/><rect x="407.17" y="391.13" width="11.64" height="9.83" fill="#009fff"/><rect x="418.76" y="391.13" width="11.64" height="9.83" fill="#009fff"/><rect x="430.34" y="391.13" width="11.64" height="9.83" fill="#009fff"/><rect x="441.93" y="391.13" width="11.64" height="9.83" fill="#00dfff"/><rect x="453.51" y="391.13" width="11.64" height="9.83" fill="#20ffdf"/><rect x="465.10" y="391.13" width="11.64" height="9.83" fill="#00ffff"/><rect x="476.69" y="391.13" width="11.64" height="9.83" fill="#009fff"/><rect x="488.27" y="391.13" width="11.64" height="9.83" fill="#00ffff"/><rect x="499.86" y="391.13" width="11.64" height="9.83" fill="#00dfff"/><rect x="511.44" y="391.13" width="11.64" height="9.83" fill="#00ffff"/><rect x="523.03" y="391.13" width="11.64" height="9.83" fill="#9fff60"/><rect x="534.61" y="391.13" width="11.64" height="9.83" fill="#dfff20"/><rect x="302.90" y="400.91" width="11.64" height="9.83" fill="#dfff20"/><rect x="314.49" y="400.91" width="11.64" height="9.83" fill="#00ffff"/><rect x="326.07" y="400.91" width="11.64" height="9.83" fill="#40ffbf"/><rect x="337.66" y="400.91" width="11.64" height="9.83" fill="#ffdf00"/><rect x="349.24" y="400.91" width="11.64" height="9.83" fill="#ff9f00"/><rect x="360.83" y="400.91" width="11.64" height="9.83" fill="#ffdf00"/><rect x="372.41" y="400.91" width="11.64" height="9.83" fill="#dfff20"/><rect x="384.00" y="400.91" width="11.64" height="9.83" fill="#9fff60"/><rect x="395.59" y="400.91" width="11.64" height="9.83" fill="#00dfff"/><rect x="407.17" y="400.91" width="11.64" height="9.83" fill="#009fff"/><rect x="418.76" y="400.91" width="11.64" height="9.83" fill="#009fff"/><rect x="430.34" y="400.91" width="11.64" height="9.83" fill="#009fff"/><rect x="441.93" y="400.91" width="11.64" height="9.83" fill="#009fff"/><rect x="453.51" y="400.91" width="11.64" height="9.83" fill="#20ffdf"/><rect x="465.10" y="400.91" width="11.64" height="9.83" fill="#20ffdf"/><rect x="476.69" y="400.91" width="11.64" height="9.83" fill="#0080ff"/><rect x="488.27" y="400.91" width="11.64" height="9.83" fill="#00bfff"/><rect x="499.86" y="400.91" width="11.64" height="9.83" fill="#60ff9f"/><rect x="511.44" y="400.91" width="11.64" height="9.83" fill="#60ff9f"/><rect x="523.03" y="400.91" width="11.64" height="9.83" fill="#40ffbf"/><rect x="534.61" y="400.91" width="11.64" height="9.83" fill="#60ff9f"/><rect x="302.90" y="410.69" width="11.64" height="9.83" fill="#60ff9f"/><rect x="314.49" y="410.69" width="11.64" height="9.83" fill="#00bfff"/><rect x="326.07" y="410.69" width="11.64" height="9.83" fill="#00bfff"/><rect x="337.66" y="410.69" width="11.64" height="9.83" fill="#60ff9f"/><rect x="349.24" y="410.69" width="11.64" height="9.83" fill="#80ff80"/><rect x="360.83" y="410.69" width="11.64" height="9.83" fill="#80ff80"/><rect x="372.41" y="410.69" width="11.64" height="9.83" fill="#60ff9f"/><rect x="384.00" y="410.69" width="11.64" height="9.83" fill="#00ffff"/><rect x="395.59" y="410.69" width="11.64" height="9.83" fill="#00ffff"/><rect x="407.17" y="410.69" width="11.64" height="9.83" fill="#20ffdf"/><rect x="418.76" y="410.69" width="11.64" height="9.83" fill="#00dfff"/><rect x="430.34" y="410.69" width="11.64" height="9.83" fill="#009fff"/><rect x="441.93" y="410.69" width="11.64" height="9.83" fill="#009fff"/><rect x="453.51" y="410.69" width="11.64" height="9.83" fill="#40ffbf"/><rect x="465.10" y="410.69" width="11.64" height="9.83" fill="#80ff80"/><rect x="476.69" y="410.69" width="11.64" height="9.83" fill="#00dfff"/><rect x="488.27" y="410.69" width="11.64" height="9.83" fill="#009fff"/><rect x="499.86" y="410.69" width="11.64" height="9.83" fill="#60ff9f"/><rect x="511.44" y="410.69" width="11.64" height="9.83" fill="#ffdf00"/><rect x="523.03" y="410.69" width="11.64" height="9.83" fill="#ffff00"/><rect x="534.61" y="410.69" width="11.64" height="9.83" fill="#40ffbf"/><rect x="302.90" y="420.47" width="11.64" height="9.83" fill="#00ffff"/><rect x="314.49" y="420.47" width="11.64" height="9.83" fill="#009fff"/><rect x="326.07" y="420.47" width="11.64" height="9.83" fill="#0000ff"/><rect x="337.66" y="420.47" width="11.64" height="9.83" fill="#0020ff"/><rect x="349.24" y="420.47" width="11.64" height="9.83" fill="#00bfff"/><rect x="360.83" y="420.47" width="11.64" height="9.83" fill="#20ffdf"/><rect x="372.41" y="420.47" width="11.64" height="9.83" fill="#20ffdf"/><rect x="384.00" y="420.47" width="11.64" height="9.83" fill="#20ffdf"/><rect x="395.59" y="420.47" width="11.64" height="9.83" fill="#20ffdf"/><rect x="407.17" y="420.47" width="11.64" height="9.83" fill="#60ff9f"/><rect x="418.76" y="420.47" width="11.64" height="9.83" fill="#9fff60"/><rect x="430.34" y="420.47" width="11.64" height="9.83" fill="#40ffbf"/><rect x="441.93" y="420.47" width="11.64" height="9.83" fill="#009fff"/><rect x="453.51" y="420.47" width="11.64" height="9.83" fill="#00ffff"/><rect x="465.10" y="420.47" width="11.64" height="9.83" fill="#bfff40"/><rect x="476.69" y="420.47" width="11.64" height="9.83" fill="#00ffff"/><rect x="488.27" y="420.47" width="11.64" height="9.83" fill="#0020ff"/><rect x="499.86" y="420.47" width="11.64" height="9.83" fill="#00ffff"/><rect x="511.44" y="420.47" width="11.64" height="9.83" fill="#ffdf00"/><rect x="523.03" y="420.47" width="11.64" height="9.83" fill="#ff9f00"/><rect x="534.61" y="420.47" width="11.64" height="9.83" fill="#9fff60"/><rect x="302.90" y="430.25" width="11.64" height="9.83" fill="#00dfff"/><rect x="314.49" y="430.25" width="11.64" height="9.83" fill="#0060ff"/><rect x="326.07" y="430.25" width="11.64" height="9.83" fill="#0060ff"/><rect x="337.66" y="430.25" width="11.64" height="9.83" fill="#009fff"/><rect x="349.24" y="430.25" width="11.64" height="9.83" fill="#60ff9f"/><rect x="360.83" y="430.25" width="11.64" height="9.83" fill="#80ff80"/><rect x="372.41" y="430.25" width="11.64" height="9.83" fill="#20ffdf"/><rect x="384.00" y="430.25" width="11.64" height="9.83" fill="#0060ff"/><rect x="395.59" y="430.25" width="11.64" height="9.83" fill="#009fff"/><rect x="407.17" y="430.25" width="11.64" height="9.83" fill="#bfff40"/><rect x="418.76" y="430.25" width="11.64" height="9.83" fill="#80ff80"/><rect x="430.34" y="430.25" width="11.64" height="9.83" fill="#009fff"/><rect x="441.93" y="430.25" width="11.64" height="9.83" fill="#00dfff"/><rect x="453.51" y="430.25" width="11.64" height="9.83" fill="#9fff60"/><rect x="465.10" y="430.25" width="11.64" height="9.83" fill="#ffff00"/><rect x="476.69" y="430.25" width="11.64" height="9.83" fill="#9fff60"/><rect x="488.27" y="430.25" width="11.64" height="9.83" fill="#40ffbf"/><rect x="499.86" y="430.25" width="11.64" height="9.83" fill="#60ff9f"/><rect x="511.44" y="430.25" width="11.64" height="9.83" fill="#9fff60"/><rect x="523.03" y="430.25" width="11.64" height="9.83" fill="#bfff40"/><rect x="534.61" y="430.25" width="11.64" height="9.83" fill="#80ff80"/><rect x="302.90" y="440.03" width="11.64" height="9.83" fill="#00bfff"/><rect x="314.49" y="440.03" width="11.64" height="9.83" fill="#009fff"/><rect x="326.07" y="440.03" width="11.64" height="9.83" fill="#20ffdf"/><rect x="337.66" y="440.03" width="11.64" height="9.83" fill="#dfff20"/><rect x="349.24" y="440.03" width="11.64" height="9.83" fill="#dfff20"/><rect x="360.83" y="440.03" width="11.64" height="9.83" fill="#00dfff"/><rect x="372.41" y="440.03" width="11.64" height="9.83" fill="#009fff"/><rect x="384.00" y="440.03" width="11.64" height="9.83" fill="#0000ff"/><rect x="395.59" y="440.03" width="11.64" height="9.83" fill="#0060ff"/><rect x="407.17" y="440.03" width="11.64" height="9.83" fill="#40ffbf"/><rect x="418.76" y="440.03" width="11.64" height="9.83" fill="#00bfff"/><rect x="430.34" y="440.03" width="11.64" height="9.83" fill="#009fff"/><rect x="441.93" y="440.03" width="11.64" height="9.83" fill="#60ff9f"/><rect x="453.51" y="440.03" width="11.64" height="9.83" fill="#40ffbf"/><rect x="465.10" y="440.03" width="11.64" height="9.83" fill="#20ffdf"/><rect x="476.69" y="440.03" width="11.64" height="9.83" fill="#ffff00"/><rect x="488.27" y="440.03" width="11.64" height="9.83" fill="#ffdf00"/><rect x="499.86" y="440.03" width="11.64" height="9.83" fill="#60ff9f"/><rect x="511.44" y="440.03" width="11.64" height="9.83" fill="#0080ff"/><rect x="523.03" y="440.03" width="11.64" height="9.83" fill="#009fff"/><rect x="534.61" y="440.03" width="11.64" height="9.83" fill="#20ffdf"/><rect x="302.90" y="449.81" width="11.64" height="9.83" fill="#00dfff"/><rect x="314.49" y="449.81" width="11.64" height="9.83" fill="#20ffdf"/><rect x="326.07" y="449.81" width="11.64" height="9.83" fill="#60ff9f"/><rect x="337.66" y="449.81" width="11.64" height="9.83" fill="#9fff60"/><rect x="349.24" y="449.81" width="11.64" height="9.83" fill="#20ffdf"/><rect x="360.83" y="449.81" width="11.64" height="9.83" fill="#0080ff"/><rect x="372.41" y="449.81" width="11.64" height="9.83" fill="#00bfff"/><rect x="384.00" y="449.81" width="11.64" height="9.83" fill="#009fff"/><rect x="395.59" y="449.81" width="11.64" height="9.83" fill="#0020ff"/><rect x="407.17" y="449.81" width="11.64" height="9.83" fill="#0060ff"/><rect x="418.76" y="449.81" width="11.64" height="9.83" fill="#009fff"/><rect x="430.34" y="449.81" width="11.64" height="9.83" fill="#00dfff"/><rect x="441.93" y="449.81" width="11.64" height="9.83" fill="#009fff"/><rect x="453.51" y="449.81" width="11.64" height="9.83" fill="#0060ff"/><rect x="465.10" y="449.81" width="11.64" height="9.83" fill="#0060ff"/><rect x="476.69" y="449.81" width="11.64" height="9.83" fill="#60ff9f"/><rect x="488.27" y="449.81" width="11.64" height="9.83" fill="#9fff60"/><rect x="499.86" y="449.81" width="11.64" height="9.83" fill="#009fff"/><rect x="511.44" y="449.81" width="11.64" height="9.83" fill="#0000ff"/><rect x="523.03" y="449.81" width="11.64" height="9.83" fill="#0080ff"/><rect x="534.61" y="449.81" width="11.64" height="9.83" fill="#20ffdf"/><rect x="302.90" y="459.60" width="11.64" height="9.83" fill="#00dfff"/><rect x="314.49" y="459.60" width="11.64" height="9.83" fill="#00dfff"/><rect x="326.07" y="459.60" width="11.64" height="9.83" fill="#bfff40"/><rect x="337.66" y="459.60" width="11.64" height="9.83" fill="#9fff60"/><rect x="349.24" y="459.60" width="11.64" height="9.83" fill="#0060ff"/><rect x="360.83" y="459.60" width="11.64" height="9.83" fill="#0060ff"/><rect x="372.41" y="459.60" width="11.64" height="9.83" fill="#20ffdf"/><rect x="384.00" y="459.60" width="11.64" height="9.83" fill="#20ffdf"/><rect x="395.59" y="459.60" width="11.64" height="9.83" fill="#0080ff"/><rect x="407.17" y="459.60" width="11.64" height="9.83" fill="#0060ff"/><rect x="418.76" y="459.60" width="11.64" height="9.83" fill="#0080ff"/><rect x="430.34" y="459.60" width="11.64" height="9.83" fill="#009fff"/><rect x="441.93" y="459.60" width="11.64" height="9.83" fill="#00bfff"/><rect x="453.51" y="459.60" width="11.64" height="9.83" fill="#00ffff"/><rect x="465.10" y="459.60" width="11.64" height="9.83" fill="#009fff"/><rect x="476.69" y="459.60" width="11.64" height="9.83" fill="#0060ff"/><rect x="488.27" y="459.60" width="11.64" height="9.83" fill="#00dfff"/><rect x="499.86" y="459.60" width="11.64" height="9.83" fill="#00bfff"/><rect x="511.44" y="459.60" width="11.64" height="9.83" fill="#20ffdf"/><rect x="523.03" y="459.60" width="11.64" height="9.83" fill="#60ff9f"/><rect x="534.61" y="459.60" width="11.64" height="9.83" fill="#40ffbf"/><rect x="302.90" y="469.38" width="11.64" height="9.83" fill="#00dfff"/><rect x="314.49" y="469.38" width="11.64" height="9.83" fill="#0020ff"/><rect x="326.07" y="469.38" width="11.64" height="9.83" fill="#00dfff"/><rect x="337.66" y="469.38" width="11.64" height="9.83" fill="#60ff9f"/><rect x="349.24" y="469.38" width="11.64" height="9.83" fill="#0060ff"/><rect x="360.83" y="469.38" width="11.64" height="9.83" fill="#0020ff"/><rect x="372.41" y="469.38" width="11.64" height="9.83" fill="#00dfff"/><rect x="384.00" y="469.38" width="11.64" height="9.83" fill="#00dfff"/><rect x="395.59" y="469.38" width="11.64" height="9.83" fill="#00bfff"/><rect x="407.17" y="469.38" width="11.64" height="9.83" fill="#00bfff"/><rect x="418.76" y="469.38" width="11.64" height="9.83" fill="#0040ff"/><rect x="430.34" y="469.38" width="11.64" height="9.83" fill="#00bfff"/><rect x="441.93" y="469.38" width="11.64" height="9.83" fill="#9fff60"/><rect x="453.51" y="469.38" width="11.64" height="9.83" fill="#ffdf00"/><rect x="465.10" y="469.38" width="11.64" height="9.83" fill="#80ff80"/><rect x="476.69" y="469.38" width="11.64" height="9.83" fill="#009fff"/><rect x="488.27" y="469.38" width="11.64" height="9.83" fill="#0040ff"/><rect x="499.86" y="469.38" width="11.64" height="9.83" fill="#00ffff"/><rect x="511.44" y="469.38" width="11.64" height="9.83" fill="#ffdf00"/><rect x="523.03" y="469.38" width="11.64" height="9.83" fill="#ffdf00"/><rect x="534.61" y="469.38" width="11.64" height="9.83" fill="#9fff60"/><rect x="302.90" y="479.16" width="11.64" height="9.83" fill="#20ffdf"/><rect x="314.49" y="479.16" width="11.64" height="9.83" fill="#0080ff"/><rect x="326.07" y="479.16" width="11.64" height="9.83" fill="#009fff"/><rect x="337.66" y="479.16" width="11.64" height="9.83" fill="#20ffdf"/><rect x="349.24" y="479.16" width="11.64" height="9.83" fill="#00ffff"/><rect x="360.83" y="479.16" width="11.64" height="9.83" fill="#009fff"/><rect x="372.41" y="479.16" width="11.64" height="9.83" fill="#00ffff"/><rect x="384.00" y="479.16" width="11.64" height="9.83" fill="#20ffdf"/><rect x="395.59" y="479.16" width="11.64" height="9.83" fill="#00dfff"/><rect x="407.17" y="479.16" width="11.64" height="9.83" fill="#009fff"/><rect x="418.76" y="479.16" width="11.64" height="9.83" fill="#0060ff"/><rect x="430.34" y="479.16" width="11.64" height="9.83" fill="#009fff"/><rect x="441.93" y="479.16" width="11.64" height="9.83" fill="#40ffbf"/><rect x="453.51" y="479.16" width="11.64" height="9.83" fill="#bfff40"/><rect x="465.10" y="479.16" width="11.64" height="9.83" fill="#ffdf00"/><rect x="476.69" y="479.16" width="11.64" height="9.83" fill="#60ff9f"/><rect x="488.27" y="479.16" width="11.64" height="9.83" fill="#0060ff"/><rect x="499.86" y="479.16" width="11.64" height="9.83" fill="#00dfff"/><rect x="511.44" y="479.16" width="11.64" height="9.83" fill="#60ff9f"/><rect x="523.03" y="479.16" width="11.64" height="9.83" fill="#9fff60"/><rect x="534.61" y="479.16" width="11.64" height="9.83" fill="#60ff9f"/><rect x="302.90" y="488.94" width="11.64" height="9.83" fill="#ffff00"/><rect x="314.49" y="488.94" width="11.64" height="9.83" fill="#00ffff"/><rect x="326.07" y="488.94" width="11.64" height="9.83" fill="#00ffff"/><rect x="337.66" y="488.94" width="11.64" height="9.83" fill="#9fff60"/><rect x="349.24" y="488.94" width="11.64" height="9.83" fill="#60ff9f"/><rect x="360.83" y="488.94" width="11.64" height="9.83" fill="#009fff"/><rect x="372.41" y="488.94" width="11.64" height="9.83" fill="#60ff9f"/><rect x="384.00" y="488.94" width="11.64" height="9.83" fill="#ffdf00"/><rect x="395.59" y="488.94" width="11.64" height="9.83" fill="#40ffbf"/><rect x="407.17" y="488.94" width="11.64" height="9.83" fill="#00bfff"/><rect x="418.76" y="488.94" width="11.64" height="9.83" fill="#00dfff"/><rect x="430.34" y="488.94" width="11.64" height="9.83" fill="#20ffdf"/><rect x="441.93" y="488.94" width="11.64" height="9.83" fill="#00ffff"/><rect x="453.51" y="488.94" width="11.64" height="9.83" fill="#60ff9f"/><rect x="465.10" y="488.94" width="11.64" height="9.83" fill="#9fff60"/><rect x="476.69" y="488.94" width="11.64" height="9.83" fill="#80ff80"/><rect x="488.27" y="488.94" width="11.64" height="9.83" fill="#00ffff"/><rect x="499.86" y="488.94" width="11.64" height="9.83" fill="#20ffdf"/><rect x="511.44" y="488.94" width="11.64" height="9.83" fill="#00dfff"/><rect x="523.03" y="488.94" width="11.64" height="9.83" fill="#00dfff"/><rect x="534.61" y="488.94" width="11.64" height="9.83" fill="#60ff9f"/><rect x="302.90" y="498.72" width="11.64" height="9.83" fill="#dfff20"/><rect x="314.49" y="498.72" width="11.64" height="9.83" fill="#009fff"/><rect x="326.07" y="498.72" width="11.64" height="9.83" fill="#0020ff"/><rect x="337.66" y="498.72" width="11.64" height="9.83" fill="#60ff9f"/><rect x="349.24" y="498.72" width="11.64" height="9.83" fill="#60ff9f"/><rect x="360.83" y="498.72" width="11.64" height="9.83" fill="#0080ff"/><rect x="372.41" y="498.72" width="11.64" height="9.83" fill="#00bfff"/><rect x="384.00" y="498.72" width="11.64" height="9.83" fill="#9fff60"/><rect x="395.59" y="498.72" width="11.64" height="9.83" fill="#20ffdf"/><rect x="407.17" y="498.72" width="11.64" height="9.83" fill="#0080ff"/><rect x="418.76" y="498.72" width="11.64" height="9.83" fill="#009fff"/><rect x="430.34" y="498.72" width="11.64" height="9.83" fill="#00bfff"/><rect x="441.93" y="498.72" width="11.64" height="9.83" fill="#00dfff"/><rect x="453.51" y="498.72" width="11.64" height="9.83" fill="#60ff9f"/><rect x="465.10" y="498.72" width="11.64" height="9.83" fill="#80ff80"/><rect x="476.69" y="498.72" width="11.64" height="9.83" fill="#40ffbf"/><rect x="488.27" y="498.72" width="11.64" height="9.83" fill="#00ffff"/><rect x="499.86" y="498.72" width="11.64" height="9.83" fill="#00ffff"/><rect x="511.44" y="498.72" width="11.64" height="9.83" fill="#00dfff"/><rect x="523.03" y="498.72" width="11.64" height="9.83" fill="#00bfff"/><rect x="534.61" y="498.72" width="11.64" height="9.83" fill="#bfff40"/><path d="M302.90 303.10V508.50M314.49 303.10V508.50M326.07 303.10V508.50M337.66 303.10V508.50M349.24 303.10V508.50M360.83 303.10V508.50M372.41 303.10V508.50M384.00 303.10V508.50M395.59 303.10V508.50M407.17 303.10V508.50M418.76 303.10V508.50M430.34 303.10V508.50M441.93 303.10V508.50M453.51 303.10V508.50M465.10 303.10V508.50M476.69 303.10V508.50M488.27 303.10V508.50M499.86 303.10V508.50M511.44 303.10V508.50M523.03 303.10V508.50M534.61 303.10V508.50M546.20 303.10V508.50M302.90 303.10H546.20M302.90 312.88H546.20M302.90 322.66H546.20M302.90 332.44H546.20M302.90 342.22H546.20M302.90 352.00H546.20M302.90 361.79H546.20M302.90 371.57H546.20M302.90 381.35H546.20M302.90 391.13H546.20M302.90 400.91H546.20M302.90 410.69H546.20M302.90 420.47H546.20M302.90 430.25H546.20M302.90 440.03H546.20M302.90 449.81H546.20M302.90 459.60H546.20M302.90 469.38H546.20M302.90 479.16H546.20M302.90 488.94H546.20M302.90 498.72H546.20M302.90 508.50H546.20" stroke="#787878" stroke-width="0.45" fill="none"/><text class="tk" text-anchor="end" transform="translate(301.30 503.12) scale(0.810 1)">2</text><text class="tk" text-anchor="middle" transform="translate(314.19 518.80) scale(0.810 1)">2</text><text class="tk" text-anchor="end" transform="translate(301.30 483.56) scale(0.810 1)">4</text><text class="tk" text-anchor="middle" transform="translate(337.36 518.80) scale(0.810 1)">4</text><text class="tk" text-anchor="end" transform="translate(301.30 464.00) scale(0.810 1)">6</text><text class="tk" text-anchor="middle" transform="translate(360.53 518.80) scale(0.810 1)">6</text><text class="tk" text-anchor="end" transform="translate(301.30 444.43) scale(0.810 1)">8</text><text class="tk" text-anchor="middle" transform="translate(383.70 518.80) scale(0.810 1)">8</text><text class="tk" text-anchor="end" transform="translate(301.00 424.87) scale(0.810 1)">10</text><text class="tk" text-anchor="middle" transform="translate(406.87 518.80) scale(0.810 1)">10</text><text class="tk" text-anchor="end" transform="translate(301.00 405.31) scale(0.810 1)">12</text><text class="tk" text-anchor="middle" transform="translate(430.04 518.80) scale(0.810 1)">12</text><text class="tk" text-anchor="end" transform="translate(301.00 385.75) scale(0.810 1)">14</text><text class="tk" text-anchor="middle" transform="translate(453.21 518.80) scale(0.810 1)">14</text><text class="tk" text-anchor="end" transform="translate(301.00 366.19) scale(0.810 1)">16</text><text class="tk" text-anchor="middle" transform="translate(476.39 518.80) scale(0.810 1)">16</text><text class="tk" text-anchor="end" transform="translate(301.00 346.62) scale(0.810 1)">18</text><text class="tk" text-anchor="middle" transform="translate(499.56 518.80) scale(0.810 1)">18</text><text class="tk" text-anchor="end" transform="translate(301.00 327.06) scale(0.810 1)">20</text><text class="tk" text-anchor="middle" transform="translate(522.73 518.80) scale(0.810 1)">20</text><text class="tk" text-anchor="end" transform="translate(301.00 307.50) scale(0.810 1)">22</text><text class="tk" text-anchor="middle" transform="translate(545.90 518.80) scale(0.810 1)">22</text>
<defs><linearGradient id="cb21" x1="0" y1="1" x2="0" y2="0"><stop offset="0.0000%" stop-color="#000087"/><stop offset="1.5625%" stop-color="#000087"/><stop offset="1.5625%" stop-color="#000097"/><stop offset="3.1250%" stop-color="#000097"/><stop offset="3.1250%" stop-color="#0000a7"/><stop offset="4.6875%" stop-color="#0000a7"/><stop offset="4.6875%" stop-color="#0000b7"/><stop offset="6.2500%" stop-color="#0000b7"/><stop offset="6.2500%" stop-color="#0000c7"/><stop offset="7.8125%" stop-color="#0000c7"/><stop offset="7.8125%" stop-color="#0000d7"/><stop offset="9.3750%" stop-color="#0000d7"/><stop offset="9.3750%" stop-color="#0000e7"/><stop offset="10.9375%" stop-color="#0000e7"/><stop offset="10.9375%" stop-color="#0000f7"/><stop offset="12.5000%" stop-color="#0000f7"/><stop offset="12.5000%" stop-color="#0008ff"/><stop offset="14.0625%" stop-color="#0008ff"/><stop offset="14.0625%" stop-color="#0018ff"/><stop offset="15.6250%" stop-color="#0018ff"/><stop offset="15.6250%" stop-color="#0028ff"/><stop offset="17.1875%" stop-color="#0028ff"/><stop offset="17.1875%" stop-color="#0038ff"/><stop offset="18.7500%" stop-color="#0038ff"/><stop offset="18.7500%" stop-color="#0048ff"/><stop offset="20.3125%" stop-color="#0048ff"/><stop offset="20.3125%" stop-color="#0058ff"/><stop offset="21.8750%" stop-color="#0058ff"/><stop offset="21.8750%" stop-color="#0068ff"/><stop offset="23.4375%" stop-color="#0068ff"/><stop offset="23.4375%" stop-color="#0078ff"/><stop offset="25.0000%" stop-color="#0078ff"/><stop offset="25.0000%" stop-color="#0087ff"/><stop offset="26.5625%" stop-color="#0087ff"/><stop offset="26.5625%" stop-color="#0097ff"/><stop offset="28.1250%" stop-color="#0097ff"/><stop offset="28.1250%" stop-color="#00a7ff"/><stop offset="29.6875%" stop-color="#00a7ff"/><stop offset="29.6875%" stop-color="#00b7ff"/><stop offset="31.2500%" stop-color="#00b7ff"/><stop offset="31.2500%" stop-color="#00c7ff"/><stop offset="32.8125%" stop-color="#00c7ff"/><stop offset="32.8125%" stop-color="#00d7ff"/><stop offset="34.3750%" stop-color="#00d7ff"/><stop offset="34.3750%" stop-color="#00e7ff"/><stop offset="35.9375%" stop-color="#00e7ff"/><stop offset="35.9375%" stop-color="#00f7ff"/><stop offset="37.5000%" stop-color="#00f7ff"/><stop offset="37.5000%" stop-color="#08fff7"/><stop offset="39.0625%" stop-color="#08fff7"/><stop offset="39.0625%" stop-color="#18ffe7"/><stop offset="40.6250%" stop-color="#18ffe7"/><stop offset="40.6250%" stop-color="#28ffd7"/><stop offset="42.1875%" stop-color="#28ffd7"/><stop offset="42.1875%" stop-color="#38ffc7"/><stop offset="43.7500%" stop-color="#38ffc7"/><stop offset="43.7500%" stop-color="#48ffb7"/><stop offset="45.3125%" stop-color="#48ffb7"/><stop offset="45.3125%" stop-color="#58ffa7"/><stop offset="46.8750%" stop-color="#58ffa7"/><stop offset="46.8750%" stop-color="#68ff97"/><stop offset="48.4375%" stop-color="#68ff97"/><stop offset="48.4375%" stop-color="#78ff87"/><stop offset="50.0000%" stop-color="#78ff87"/><stop offset="50.0000%" stop-color="#87ff78"/><stop offset="51.5625%" stop-color="#87ff78"/><stop offset="51.5625%" stop-color="#97ff68"/><stop offset="53.1250%" stop-color="#97ff68"/><stop offset="53.1250%" stop-color="#a7ff58"/><stop offset="54.6875%" stop-color="#a7ff58"/><stop offset="54.6875%" stop-color="#b7ff48"/><stop offset="56.2500%" stop-color="#b7ff48"/><stop offset="56.2500%" stop-color="#c7ff38"/><stop offset="57.8125%" stop-color="#c7ff38"/><stop offset="57.8125%" stop-color="#d7ff28"/><stop offset="59.3750%" stop-color="#d7ff28"/><stop offset="59.3750%" stop-color="#e7ff18"/><stop offset="60.9375%" stop-color="#e7ff18"/><stop offset="60.9375%" stop-color="#f7ff08"/><stop offset="62.5000%" stop-color="#f7ff08"/><stop offset="62.5000%" stop-color="#fff700"/><stop offset="64.0625%" stop-color="#fff700"/><stop offset="64.0625%" stop-color="#ffe700"/><stop offset="65.6250%" stop-color="#ffe700"/><stop offset="65.6250%" stop-color="#ffd700"/><stop offset="67.1875%" stop-color="#ffd700"/><stop offset="67.1875%" stop-color="#ffc700"/><stop offset="68.7500%" stop-color="#ffc700"/><stop offset="68.7500%" stop-color="#ffb700"/><stop offset="70.3125%" stop-color="#ffb700"/><stop offset="70.3125%" stop-color="#ffa700"/><stop offset="71.8750%" stop-color="#ffa700"/><stop offset="71.8750%" stop-color="#ff9700"/><stop offset="73.4375%" stop-color="#ff9700"/><stop offset="73.4375%" stop-color="#ff8700"/><stop offset="75.0000%" stop-color="#ff8700"/><stop offset="75.0000%" stop-color="#ff7800"/><stop offset="76.5625%" stop-color="#ff7800"/><stop offset="76.5625%" stop-color="#ff6800"/><stop offset="78.1250%" stop-color="#ff6800"/><stop offset="78.1250%" stop-color="#ff5800"/><stop offset="79.6875%" stop-color="#ff5800"/><stop offset="79.6875%" stop-color="#ff4800"/><stop offset="81.2500%" stop-color="#ff4800"/><stop offset="81.2500%" stop-color="#ff3800"/><stop offset="82.8125%" stop-color="#ff3800"/><stop offset="82.8125%" stop-color="#ff2800"/><stop offset="84.3750%" stop-color="#ff2800"/><stop offset="84.3750%" stop-color="#ff1800"/><stop offset="85.9375%" stop-color="#ff1800"/><stop offset="85.9375%" stop-color="#ff0800"/><stop offset="87.5000%" stop-color="#ff0800"/><stop offset="87.5000%" stop-color="#f70000"/><stop offset="89.0625%" stop-color="#f70000"/><stop offset="89.0625%" stop-color="#e70000"/><stop offset="90.6250%" stop-color="#e70000"/><stop offset="90.6250%" stop-color="#d70000"/><stop offset="92.1875%" stop-color="#d70000"/><stop offset="92.1875%" stop-color="#c70000"/><stop offset="93.7500%" stop-color="#c70000"/><stop offset="93.7500%" stop-color="#b70000"/><stop offset="95.3125%" stop-color="#b70000"/><stop offset="95.3125%" stop-color="#a70000"/><stop offset="96.8750%" stop-color="#a70000"/><stop offset="96.8750%" stop-color="#970000"/><stop offset="98.4375%" stop-color="#970000"/><stop offset="98.4375%" stop-color="#870000"/><stop offset="100.0000%" stop-color="#870000"/></linearGradient></defs><rect x="568.90" y="21.30" width="10.40" height="206.10" fill="url(#cb21)"/><rect x="568.90" y="21.30" width="10.40" height="206.10" fill="none" stroke="#555" stroke-width="0.5"/><text class="tk" text-anchor="start" transform="translate(579.50 212.98) scale(0.810 1)">0.8</text><path d="M568.90 209.18h1.6M579.30 209.18h-1.6" stroke="#333" stroke-width="0.6"/><text class="tk" text-anchor="start" transform="translate(579.50 176.91) scale(0.810 1)">0.9</text><path d="M568.90 173.11h1.6M579.30 173.11h-1.6" stroke="#333" stroke-width="0.6"/><text class="tk" text-anchor="start" transform="translate(579.50 140.83) scale(0.810 1)">1</text><path d="M568.90 137.03h1.6M579.30 137.03h-1.6" stroke="#333" stroke-width="0.6"/><text class="tk" text-anchor="start" transform="translate(579.50 104.75) scale(0.810 1)">1.1</text><path d="M568.90 100.95h1.6M579.30 100.95h-1.6" stroke="#333" stroke-width="0.6"/><text class="tk" text-anchor="start" transform="translate(579.50 68.68) scale(0.810 1)">1.2</text><path d="M568.90 64.88h1.6M579.30 64.88h-1.6" stroke="#333" stroke-width="0.6"/><text class="tk" text-anchor="start" transform="translate(579.50 32.60) scale(0.810 1)">1.3</text><path d="M568.90 28.80h1.6M579.30 28.80h-1.6" stroke="#333" stroke-width="0.6"/>
<defs><linearGradient id="cb302" x1="0" y1="1" x2="0" y2="0"><stop offset="0.0000%" stop-color="#000087"/><stop offset="1.5625%" stop-color="#000087"/><stop offset="1.5625%" stop-color="#000097"/><stop offset="3.1250%" stop-color="#000097"/><stop offset="3.1250%" stop-color="#0000a7"/><stop offset="4.6875%" stop-color="#0000a7"/><stop offset="4.6875%" stop-color="#0000b7"/><stop offset="6.2500%" stop-color="#0000b7"/><stop offset="6.2500%" stop-color="#0000c7"/><stop offset="7.8125%" stop-color="#0000c7"/><stop offset="7.8125%" stop-color="#0000d7"/><stop offset="9.3750%" stop-color="#0000d7"/><stop offset="9.3750%" stop-color="#0000e7"/><stop offset="10.9375%" stop-color="#0000e7"/><stop offset="10.9375%" stop-color="#0000f7"/><stop offset="12.5000%" stop-color="#0000f7"/><stop offset="12.5000%" stop-color="#0008ff"/><stop offset="14.0625%" stop-color="#0008ff"/><stop offset="14.0625%" stop-color="#0018ff"/><stop offset="15.6250%" stop-color="#0018ff"/><stop offset="15.6250%" stop-color="#0028ff"/><stop offset="17.1875%" stop-color="#0028ff"/><stop offset="17.1875%" stop-color="#0038ff"/><stop offset="18.7500%" stop-color="#0038ff"/><stop offset="18.7500%" stop-color="#0048ff"/><stop offset="20.3125%" stop-color="#0048ff"/><stop offset="20.3125%" stop-color="#0058ff"/><stop offset="21.8750%" stop-color="#0058ff"/><stop offset="21.8750%" stop-color="#0068ff"/><stop offset="23.4375%" stop-color="#0068ff"/><stop offset="23.4375%" stop-color="#0078ff"/><stop offset="25.0000%" stop-color="#0078ff"/><stop offset="25.0000%" stop-color="#0087ff"/><stop offset="26.5625%" stop-color="#0087ff"/><stop offset="26.5625%" stop-color="#0097ff"/><stop offset="28.1250%" stop-color="#0097ff"/><stop offset="28.1250%" stop-color="#00a7ff"/><stop offset="29.6875%" stop-color="#00a7ff"/><stop offset="29.6875%" stop-color="#00b7ff"/><stop offset="31.2500%" stop-color="#00b7ff"/><stop offset="31.2500%" stop-color="#00c7ff"/><stop offset="32.8125%" stop-color="#00c7ff"/><stop offset="32.8125%" stop-color="#00d7ff"/><stop offset="34.3750%" stop-color="#00d7ff"/><stop offset="34.3750%" stop-color="#00e7ff"/><stop offset="35.9375%" stop-color="#00e7ff"/><stop offset="35.9375%" stop-color="#00f7ff"/><stop offset="37.5000%" stop-color="#00f7ff"/><stop offset="37.5000%" stop-color="#08fff7"/><stop offset="39.0625%" stop-color="#08fff7"/><stop offset="39.0625%" stop-color="#18ffe7"/><stop offset="40.6250%" stop-color="#18ffe7"/><stop offset="40.6250%" stop-color="#28ffd7"/><stop offset="42.1875%" stop-color="#28ffd7"/><stop offset="42.1875%" stop-color="#38ffc7"/><stop offset="43.7500%" stop-color="#38ffc7"/><stop offset="43.7500%" stop-color="#48ffb7"/><stop offset="45.3125%" stop-color="#48ffb7"/><stop offset="45.3125%" stop-color="#58ffa7"/><stop offset="46.8750%" stop-color="#58ffa7"/><stop offset="46.8750%" stop-color="#68ff97"/><stop offset="48.4375%" stop-color="#68ff97"/><stop offset="48.4375%" stop-color="#78ff87"/><stop offset="50.0000%" stop-color="#78ff87"/><stop offset="50.0000%" stop-color="#87ff78"/><stop offset="51.5625%" stop-color="#87ff78"/><stop offset="51.5625%" stop-color="#97ff68"/><stop offset="53.1250%" stop-color="#97ff68"/><stop offset="53.1250%" stop-color="#a7ff58"/><stop offset="54.6875%" stop-color="#a7ff58"/><stop offset="54.6875%" stop-color="#b7ff48"/><stop offset="56.2500%" stop-color="#b7ff48"/><stop offset="56.2500%" stop-color="#c7ff38"/><stop offset="57.8125%" stop-color="#c7ff38"/><stop offset="57.8125%" stop-color="#d7ff28"/><stop offset="59.3750%" stop-color="#d7ff28"/><stop offset="59.3750%" stop-color="#e7ff18"/><stop offset="60.9375%" stop-color="#e7ff18"/><stop offset="60.9375%" stop-color="#f7ff08"/><stop offset="62.5000%" stop-color="#f7ff08"/><stop offset="62.5000%" stop-color="#fff700"/><stop offset="64.0625%" stop-color="#fff700"/><stop offset="64.0625%" stop-color="#ffe700"/><stop offset="65.6250%" stop-color="#ffe700"/><stop offset="65.6250%" stop-color="#ffd700"/><stop offset="67.1875%" stop-color="#ffd700"/><stop offset="67.1875%" stop-color="#ffc700"/><stop offset="68.7500%" stop-color="#ffc700"/><stop offset="68.7500%" stop-color="#ffb700"/><stop offset="70.3125%" stop-color="#ffb700"/><stop offset="70.3125%" stop-color="#ffa700"/><stop offset="71.8750%" stop-color="#ffa700"/><stop offset="71.8750%" stop-color="#ff9700"/><stop offset="73.4375%" stop-color="#ff9700"/><stop offset="73.4375%" stop-color="#ff8700"/><stop offset="75.0000%" stop-color="#ff8700"/><stop offset="75.0000%" stop-color="#ff7800"/><stop offset="76.5625%" stop-color="#ff7800"/><stop offset="76.5625%" stop-color="#ff6800"/><stop offset="78.1250%" stop-color="#ff6800"/><stop offset="78.1250%" stop-color="#ff5800"/><stop offset="79.6875%" stop-color="#ff5800"/><stop offset="79.6875%" stop-color="#ff4800"/><stop offset="81.2500%" stop-color="#ff4800"/><stop offset="81.2500%" stop-color="#ff3800"/><stop offset="82.8125%" stop-color="#ff3800"/><stop offset="82.8125%" stop-color="#ff2800"/><stop offset="84.3750%" stop-color="#ff2800"/><stop offset="84.3750%" stop-color="#ff1800"/><stop offset="85.9375%" stop-color="#ff1800"/><stop offset="85.9375%" stop-color="#ff0800"/><stop offset="87.5000%" stop-color="#ff0800"/><stop offset="87.5000%" stop-color="#f70000"/><stop offset="89.0625%" stop-color="#f70000"/><stop offset="89.0625%" stop-color="#e70000"/><stop offset="90.6250%" stop-color="#e70000"/><stop offset="90.6250%" stop-color="#d70000"/><stop offset="92.1875%" stop-color="#d70000"/><stop offset="92.1875%" stop-color="#c70000"/><stop offset="93.7500%" stop-color="#c70000"/><stop offset="93.7500%" stop-color="#b70000"/><stop offset="95.3125%" stop-color="#b70000"/><stop offset="95.3125%" stop-color="#a70000"/><stop offset="96.8750%" stop-color="#a70000"/><stop offset="96.8750%" stop-color="#970000"/><stop offset="98.4375%" stop-color="#970000"/><stop offset="98.4375%" stop-color="#870000"/><stop offset="100.0000%" stop-color="#870000"/></linearGradient></defs><rect x="568.90" y="302.00" width="10.40" height="206.20" fill="url(#cb302)"/><rect x="568.90" y="302.00" width="10.40" height="206.20" fill="none" stroke="#555" stroke-width="0.5"/><text class="tk" text-anchor="start" transform="translate(579.50 493.77) scale(0.810 1)">0.8</text><path d="M568.90 489.97h1.6M579.30 489.97h-1.6" stroke="#333" stroke-width="0.6"/><text class="tk" text-anchor="start" transform="translate(579.50 457.68) scale(0.810 1)">0.9</text><path d="M568.90 453.88h1.6M579.30 453.88h-1.6" stroke="#333" stroke-width="0.6"/><text class="tk" text-anchor="start" transform="translate(579.50 421.59) scale(0.810 1)">1</text><path d="M568.90 417.79h1.6M579.30 417.79h-1.6" stroke="#333" stroke-width="0.6"/><text class="tk" text-anchor="start" transform="translate(579.50 385.49) scale(0.810 1)">1.1</text><path d="M568.90 381.69h1.6M579.30 381.69h-1.6" stroke="#333" stroke-width="0.6"/><text class="tk" text-anchor="start" transform="translate(579.50 349.40) scale(0.810 1)">1.2</text><path d="M568.90 345.60h1.6M579.30 345.60h-1.6" stroke="#333" stroke-width="0.6"/><text class="tk" text-anchor="start" transform="translate(579.50 313.31) scale(0.810 1)">1.3</text><path d="M568.90 309.51h1.6M579.30 309.51h-1.6" stroke="#333" stroke-width="0.6"/>
<text class="tt" text-anchor="middle" transform="translate(157.70 11.50) scale(0.975 1)">Direct FE</text>
<text class="tt" text-anchor="middle" transform="translate(411.20 11.50) scale(0.975 1)">MKS-FE</text>
<text class="tt" text-anchor="middle" transform="translate(151.75 291.10) scale(0.975 1)">Direct FE</text>
<text class="tt" text-anchor="middle" transform="translate(417.00 291.10) scale(0.975 1)">MKS-FE</text>
<text class="ax" text-anchor="middle" transform="translate(143.00 246.20) scale(0.85 1)">Z</text>
<text class="ax" text-anchor="middle" transform="translate(7.70 125.45) rotate(-90) scale(0.88 1)">Y</text>
<text class="ax" text-anchor="middle" transform="translate(423.90 246.30) scale(0.85 1)">Z</text>
<text class="ax" text-anchor="middle" transform="translate(288.30 125.50) rotate(-90) scale(0.88 1)">Y</text>
<text class="ax" text-anchor="middle" transform="translate(143.00 527.50) scale(0.85 1)">Z</text>
<text class="ax" text-anchor="middle" transform="translate(7.70 407.10) rotate(-90) scale(0.88 1)">Y</text>
<text class="ax" text-anchor="middle" transform="translate(423.90 527.50) scale(0.85 1)">Z</text>
<text class="ax" text-anchor="middle" transform="translate(288.30 407.10) rotate(-90) scale(0.88 1)">Y</text>
<text x="282.4" y="259.2" class="lb" text-anchor="middle">(a)</text>
<text x="282.4" y="541.4" class="lb" text-anchor="middle">(b)</text>
</svg>
</body></html>
